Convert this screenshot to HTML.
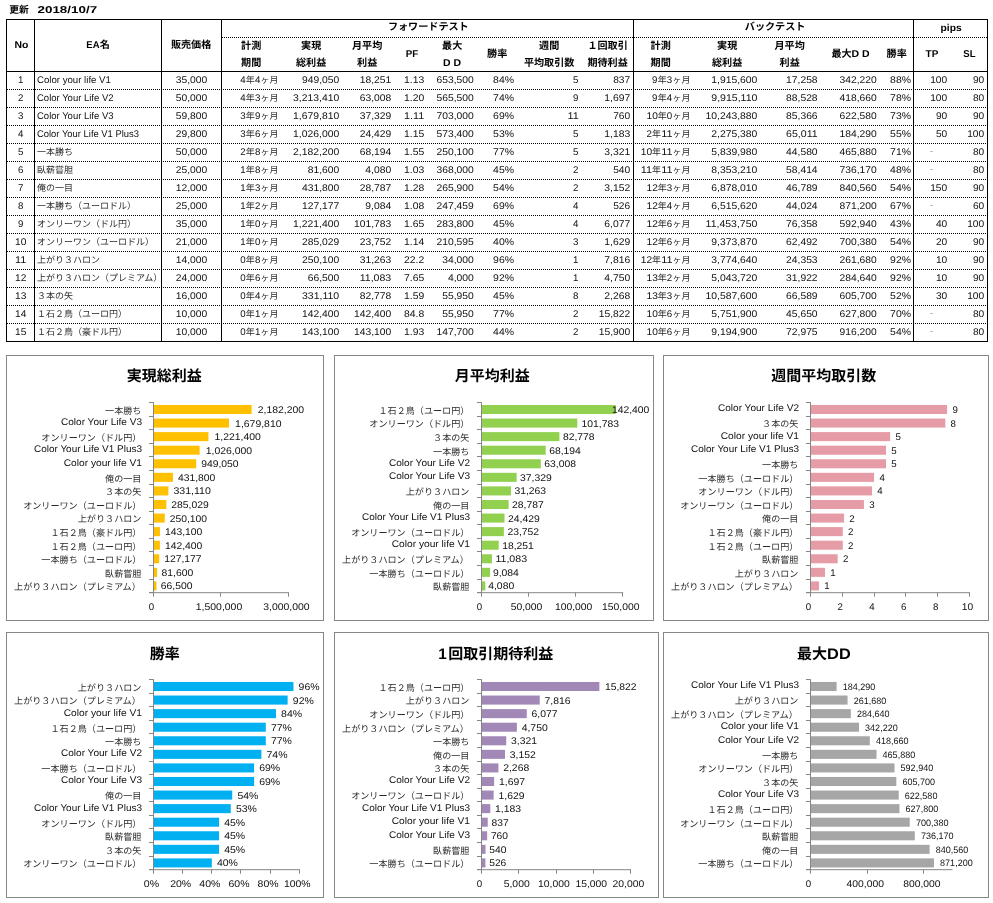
<!DOCTYPE html>
<html lang="ja">
<head>
<meta charset="utf-8">
<title>EA一覧</title>
<style>
html,body{margin:0;padding:0;background:#fff;}
body{width:993px;height:903px;overflow:hidden;font-family:"Liberation Sans","Noto Sans CJK JP",sans-serif;}
svg{display:block;font-family:"Liberation Sans","Noto Sans CJK JP",sans-serif;will-change:transform;text-rendering:geometricPrecision;}
svg line, svg rect{shape-rendering:crispEdges;}
</style>
</head>
<body>
<svg width="993" height="903" viewBox="0 0 993 903">
<g aria-label="更新"><text x="9.25" y="13.0" font-size="9.8" fill="#000" font-weight="bold">更新</text></g>
<text x="37.5" y="12.8" font-size="9.90" fill="#000" font-weight="bold" textLength="59.6" lengthAdjust="spacingAndGlyphs">2018/10/7</text>
<rect x="6.5" y="19.5" width="981.0" height="322.0" fill="none" stroke="#000"/>
<line x1="34.5" y1="19.0" x2="34.5" y2="342.0" stroke="#000" stroke-width="1"/>
<line x1="161.5" y1="19.0" x2="161.5" y2="342.0" stroke="#000" stroke-width="1"/>
<line x1="221.5" y1="19.0" x2="221.5" y2="342.0" stroke="#000" stroke-width="1"/>
<line x1="633.5" y1="19.0" x2="633.5" y2="342.0" stroke="#000" stroke-width="1"/>
<line x1="913.5" y1="19.0" x2="913.5" y2="342.0" stroke="#000" stroke-width="1"/>
<line x1="6.0" y1="71.5" x2="988.0" y2="71.5" stroke="#000" stroke-width="1"/>
<line x1="222.0" y1="37.5" x2="987.0" y2="37.5" stroke="#000" stroke-width="1" stroke-dasharray="1 1"/>
<line x1="7.0" y1="89.5" x2="987.0" y2="89.5" stroke="#000" stroke-width="1" stroke-dasharray="1 1"/>
<line x1="7.0" y1="107.5" x2="987.0" y2="107.5" stroke="#000" stroke-width="1" stroke-dasharray="1 1"/>
<line x1="7.0" y1="125.5" x2="987.0" y2="125.5" stroke="#000" stroke-width="1" stroke-dasharray="1 1"/>
<line x1="7.0" y1="143.5" x2="987.0" y2="143.5" stroke="#000" stroke-width="1" stroke-dasharray="1 1"/>
<line x1="7.0" y1="161.5" x2="987.0" y2="161.5" stroke="#000" stroke-width="1" stroke-dasharray="1 1"/>
<line x1="7.0" y1="179.5" x2="987.0" y2="179.5" stroke="#000" stroke-width="1" stroke-dasharray="1 1"/>
<line x1="7.0" y1="197.5" x2="987.0" y2="197.5" stroke="#000" stroke-width="1" stroke-dasharray="1 1"/>
<line x1="7.0" y1="215.5" x2="987.0" y2="215.5" stroke="#000" stroke-width="1" stroke-dasharray="1 1"/>
<line x1="7.0" y1="233.5" x2="987.0" y2="233.5" stroke="#000" stroke-width="1" stroke-dasharray="1 1"/>
<line x1="7.0" y1="251.5" x2="987.0" y2="251.5" stroke="#000" stroke-width="1" stroke-dasharray="1 1"/>
<line x1="7.0" y1="269.5" x2="987.0" y2="269.5" stroke="#000" stroke-width="1" stroke-dasharray="1 1"/>
<line x1="7.0" y1="287.5" x2="987.0" y2="287.5" stroke="#000" stroke-width="1" stroke-dasharray="1 1"/>
<line x1="7.0" y1="305.5" x2="987.0" y2="305.5" stroke="#000" stroke-width="1" stroke-dasharray="1 1"/>
<line x1="7.0" y1="323.5" x2="987.0" y2="323.5" stroke="#000" stroke-width="1" stroke-dasharray="1 1"/>
<text x="14.4" y="47.8" font-size="9.90" fill="#000" font-weight="bold" textLength="13.9" lengthAdjust="spacingAndGlyphs">No</text>
<g aria-label="EA名"><text x="86.3" y="47.8" font-size="9.90" fill="#000" font-weight="bold" textLength="13.2" lengthAdjust="spacingAndGlyphs">EA</text><text x="99.7" y="47.8" font-size="10.1" fill="#000" font-weight="bold">名</text></g>
<g aria-label="販売価格"><text x="170.95" y="47.7" font-size="10.1" fill="#000" font-weight="bold">販売価格</text></g>
<g aria-label="フォワードテスト"><text x="387.95" y="30.3" font-size="10.1" fill="#000" font-weight="bold">フォワードテスト</text></g>
<g aria-label="バックテスト"><text x="744.85" y="30.3" font-size="10.1" fill="#000" font-weight="bold">バックテスト</text></g>
<text x="940.6" y="30.6" font-size="9.90" fill="#000" font-weight="bold" textLength="21.1" lengthAdjust="spacingAndGlyphs">pips</text>
<g aria-label="計測"><text x="241.05" y="48.7" font-size="10.1" fill="#000" font-weight="bold">計測</text></g>
<g aria-label="期間"><text x="241.05" y="66.2" font-size="10.1" fill="#000" font-weight="bold">期間</text></g>
<g aria-label="実現"><text x="301.05" y="48.7" font-size="10.1" fill="#000" font-weight="bold">実現</text></g>
<g aria-label="総利益"><text x="296.0" y="66.2" font-size="10.1" fill="#000" font-weight="bold">総利益</text></g>
<g aria-label="月平均"><text x="352.0" y="48.7" font-size="10.1" fill="#000" font-weight="bold">月平均</text></g>
<g aria-label="利益"><text x="357.05" y="66.2" font-size="10.1" fill="#000" font-weight="bold">利益</text></g>
<g aria-label="最大"><text x="442.05" y="48.7" font-size="10.1" fill="#000" font-weight="bold">最大</text></g>
<text x="442.9" y="66.2" font-size="9.90" fill="#000" font-weight="bold" textLength="18.1" lengthAdjust="spacingAndGlyphs">D D</text>
<g aria-label="週間"><text x="539.05" y="48.7" font-size="10.1" fill="#000" font-weight="bold">週間</text></g>
<g aria-label="平均取引数"><text x="523.9" y="66.2" font-size="10.1" fill="#000" font-weight="bold">平均取引数</text></g>
<g aria-label="１回取引"><text x="587.45" y="48.7" font-size="10.1" fill="#000" font-weight="bold">１回取引</text></g>
<g aria-label="期待利益"><text x="587.45" y="66.2" font-size="10.1" fill="#000" font-weight="bold">期待利益</text></g>
<g aria-label="計測"><text x="650.55" y="48.7" font-size="10.1" fill="#000" font-weight="bold">計測</text></g>
<g aria-label="期間"><text x="650.55" y="66.2" font-size="10.1" fill="#000" font-weight="bold">期間</text></g>
<g aria-label="実現"><text x="717.05" y="48.7" font-size="10.1" fill="#000" font-weight="bold">実現</text></g>
<g aria-label="総利益"><text x="712.0" y="66.2" font-size="10.1" fill="#000" font-weight="bold">総利益</text></g>
<g aria-label="月平均"><text x="774.5" y="48.7" font-size="10.1" fill="#000" font-weight="bold">月平均</text></g>
<g aria-label="利益"><text x="779.55" y="66.2" font-size="10.1" fill="#000" font-weight="bold">利益</text></g>
<text x="405.7" y="56.8" font-size="9.90" fill="#000" font-weight="bold" textLength="12.5" lengthAdjust="spacingAndGlyphs">PF</text>
<g aria-label="勝率"><text x="487.05" y="56.5" font-size="10.1" fill="#000" font-weight="bold">勝率</text></g>
<g aria-label="最大D D"><text x="831.49" y="56.5" font-size="10.1" fill="#000" font-weight="bold">最大</text><text x="851.5" y="56.5" font-size="9.90" fill="#000" font-weight="bold" textLength="18.1" lengthAdjust="spacingAndGlyphs">D D</text></g>
<g aria-label="勝率"><text x="886.55" y="56.5" font-size="10.1" fill="#000" font-weight="bold">勝率</text></g>
<text x="925.6" y="56.8" font-size="9.90" fill="#000" font-weight="bold" textLength="12.8" lengthAdjust="spacingAndGlyphs">TP</text>
<text x="963.3" y="56.8" font-size="9.90" fill="#000" font-weight="bold" textLength="12.2" lengthAdjust="spacingAndGlyphs">SL</text>
<text x="18.0" y="83.0" font-size="9.70" fill="#111">1</text>
<text x="37.0" y="83.0" font-size="9.70" fill="#111" textLength="73.9" lengthAdjust="spacingAndGlyphs">Color your life V1</text>
<text x="175.7" y="83.0" font-size="9.70" fill="#111" textLength="31.5" lengthAdjust="spacingAndGlyphs">35,000</text>
<g aria-label="4年4ヶ月"><text x="240.2" y="83.0" font-size="9.70" fill="#111">4</text><text x="245.81" y="83.0" font-size="9" fill="#2b2b2b">年</text><text x="254.9" y="83.0" font-size="9.70" fill="#111">4</text><text x="260.53" y="83.0" font-size="9" fill="#2b2b2b">ヶ月</text></g>
<text x="302.0" y="83.0" font-size="9.70" fill="#111" textLength="37.2" lengthAdjust="spacingAndGlyphs">949,050</text>
<text x="359.7" y="83.0" font-size="9.70" fill="#111" textLength="31.5" lengthAdjust="spacingAndGlyphs">18,251</text>
<text x="404.0" y="83.0" font-size="9.70" fill="#111" textLength="20.2" lengthAdjust="spacingAndGlyphs">1.13</text>
<text x="436.6" y="83.0" font-size="9.70" fill="#111" textLength="37.2" lengthAdjust="spacingAndGlyphs">653,500</text>
<text x="493.1" y="83.0" font-size="9.70" fill="#111" textLength="20.9" lengthAdjust="spacingAndGlyphs">84%</text>
<text x="573.1" y="83.0" font-size="9.70" fill="#111">5</text>
<text x="613.2" y="83.0" font-size="9.70" fill="#111" textLength="17.0" lengthAdjust="spacingAndGlyphs">837</text>
<g aria-label="9年3ヶ月"><text x="652.1" y="83.0" font-size="9.70" fill="#111">9</text><text x="657.71" y="83.0" font-size="9" fill="#2b2b2b">年</text><text x="666.8" y="83.0" font-size="9.70" fill="#111">3</text><text x="672.42" y="83.0" font-size="9" fill="#2b2b2b">ヶ月</text></g>
<text x="711.3" y="83.0" font-size="9.70" fill="#111" textLength="46.1" lengthAdjust="spacingAndGlyphs">1,915,600</text>
<text x="786.1" y="83.0" font-size="9.70" fill="#111" textLength="31.5" lengthAdjust="spacingAndGlyphs">17,258</text>
<text x="839.6" y="83.0" font-size="9.70" fill="#111" textLength="37.2" lengthAdjust="spacingAndGlyphs">342,220</text>
<text x="890.1" y="83.0" font-size="9.70" fill="#111" textLength="20.9" lengthAdjust="spacingAndGlyphs">88%</text>
<text x="930.2" y="83.0" font-size="9.70" fill="#111" textLength="17.0" lengthAdjust="spacingAndGlyphs">100</text>
<text x="972.9" y="83.0" font-size="9.70" fill="#111" textLength="11.3" lengthAdjust="spacingAndGlyphs">90</text>
<text x="18.0" y="101.0" font-size="9.70" fill="#111">2</text>
<text x="37.0" y="101.0" font-size="9.70" fill="#111" textLength="76.5" lengthAdjust="spacingAndGlyphs">Color Your Life V2</text>
<text x="175.7" y="101.0" font-size="9.70" fill="#111" textLength="31.5" lengthAdjust="spacingAndGlyphs">50,000</text>
<g aria-label="4年3ヶ月"><text x="240.2" y="101.0" font-size="9.70" fill="#111">4</text><text x="245.81" y="101.0" font-size="9" fill="#2b2b2b">年</text><text x="254.9" y="101.0" font-size="9.70" fill="#111">3</text><text x="260.53" y="101.0" font-size="9" fill="#2b2b2b">ヶ月</text></g>
<text x="293.1" y="101.0" font-size="9.70" fill="#111" textLength="46.1" lengthAdjust="spacingAndGlyphs">3,213,410</text>
<text x="359.7" y="101.0" font-size="9.70" fill="#111" textLength="31.5" lengthAdjust="spacingAndGlyphs">63,008</text>
<text x="404.0" y="101.0" font-size="9.70" fill="#111" textLength="20.2" lengthAdjust="spacingAndGlyphs">1.20</text>
<text x="436.6" y="101.0" font-size="9.70" fill="#111" textLength="37.2" lengthAdjust="spacingAndGlyphs">565,500</text>
<text x="493.1" y="101.0" font-size="9.70" fill="#111" textLength="20.9" lengthAdjust="spacingAndGlyphs">74%</text>
<text x="573.1" y="101.0" font-size="9.70" fill="#111">9</text>
<text x="604.3" y="101.0" font-size="9.70" fill="#111" textLength="25.9" lengthAdjust="spacingAndGlyphs">1,697</text>
<g aria-label="9年4ヶ月"><text x="652.1" y="101.0" font-size="9.70" fill="#111">9</text><text x="657.71" y="101.0" font-size="9" fill="#2b2b2b">年</text><text x="666.8" y="101.0" font-size="9.70" fill="#111">4</text><text x="672.42" y="101.0" font-size="9" fill="#2b2b2b">ヶ月</text></g>
<text x="711.3" y="101.0" font-size="9.70" fill="#111" textLength="46.1" lengthAdjust="spacingAndGlyphs">9,915,110</text>
<text x="786.1" y="101.0" font-size="9.70" fill="#111" textLength="31.5" lengthAdjust="spacingAndGlyphs">88,528</text>
<text x="839.6" y="101.0" font-size="9.70" fill="#111" textLength="37.2" lengthAdjust="spacingAndGlyphs">418,660</text>
<text x="890.1" y="101.0" font-size="9.70" fill="#111" textLength="20.9" lengthAdjust="spacingAndGlyphs">78%</text>
<text x="930.2" y="101.0" font-size="9.70" fill="#111" textLength="17.0" lengthAdjust="spacingAndGlyphs">100</text>
<text x="972.9" y="101.0" font-size="9.70" fill="#111" textLength="11.3" lengthAdjust="spacingAndGlyphs">80</text>
<text x="18.0" y="119.0" font-size="9.70" fill="#111">3</text>
<text x="37.0" y="119.0" font-size="9.70" fill="#111" textLength="76.5" lengthAdjust="spacingAndGlyphs">Color Your Life V3</text>
<text x="175.7" y="119.0" font-size="9.70" fill="#111" textLength="31.5" lengthAdjust="spacingAndGlyphs">59,800</text>
<g aria-label="3年9ヶ月"><text x="240.2" y="119.0" font-size="9.70" fill="#111">3</text><text x="245.81" y="119.0" font-size="9" fill="#2b2b2b">年</text><text x="254.9" y="119.0" font-size="9.70" fill="#111">9</text><text x="260.53" y="119.0" font-size="9" fill="#2b2b2b">ヶ月</text></g>
<text x="293.1" y="119.0" font-size="9.70" fill="#111" textLength="46.1" lengthAdjust="spacingAndGlyphs">1,679,810</text>
<text x="359.7" y="119.0" font-size="9.70" fill="#111" textLength="31.5" lengthAdjust="spacingAndGlyphs">37,329</text>
<text x="404.0" y="119.0" font-size="9.70" fill="#111" textLength="20.2" lengthAdjust="spacingAndGlyphs">1.11</text>
<text x="436.6" y="119.0" font-size="9.70" fill="#111" textLength="37.2" lengthAdjust="spacingAndGlyphs">703,000</text>
<text x="493.1" y="119.0" font-size="9.70" fill="#111" textLength="20.9" lengthAdjust="spacingAndGlyphs">69%</text>
<text x="567.5" y="119.0" font-size="9.70" fill="#111" textLength="11.3" lengthAdjust="spacingAndGlyphs">11</text>
<text x="613.2" y="119.0" font-size="9.70" fill="#111" textLength="17.0" lengthAdjust="spacingAndGlyphs">760</text>
<g aria-label="10年0ヶ月"><text x="646.5" y="119.0" font-size="9.70" fill="#111" textLength="11.3" lengthAdjust="spacingAndGlyphs">10</text><text x="657.71" y="119.0" font-size="9" fill="#2b2b2b">年</text><text x="666.8" y="119.0" font-size="9.70" fill="#111">0</text><text x="672.42" y="119.0" font-size="9" fill="#2b2b2b">ヶ月</text></g>
<text x="705.6" y="119.0" font-size="9.70" fill="#111" textLength="51.8" lengthAdjust="spacingAndGlyphs">10,243,880</text>
<text x="786.1" y="119.0" font-size="9.70" fill="#111" textLength="31.5" lengthAdjust="spacingAndGlyphs">85,366</text>
<text x="839.6" y="119.0" font-size="9.70" fill="#111" textLength="37.2" lengthAdjust="spacingAndGlyphs">622,580</text>
<text x="890.1" y="119.0" font-size="9.70" fill="#111" textLength="20.9" lengthAdjust="spacingAndGlyphs">73%</text>
<text x="935.9" y="119.0" font-size="9.70" fill="#111" textLength="11.3" lengthAdjust="spacingAndGlyphs">90</text>
<text x="972.9" y="119.0" font-size="9.70" fill="#111" textLength="11.3" lengthAdjust="spacingAndGlyphs">90</text>
<text x="18.0" y="137.0" font-size="9.70" fill="#111">4</text>
<text x="37.0" y="137.0" font-size="9.70" fill="#111" textLength="102.0" lengthAdjust="spacingAndGlyphs">Color Your Life V1 Plus3</text>
<text x="175.7" y="137.0" font-size="9.70" fill="#111" textLength="31.5" lengthAdjust="spacingAndGlyphs">29,800</text>
<g aria-label="3年6ヶ月"><text x="240.2" y="137.0" font-size="9.70" fill="#111">3</text><text x="245.81" y="137.0" font-size="9" fill="#2b2b2b">年</text><text x="254.9" y="137.0" font-size="9.70" fill="#111">6</text><text x="260.53" y="137.0" font-size="9" fill="#2b2b2b">ヶ月</text></g>
<text x="293.1" y="137.0" font-size="9.70" fill="#111" textLength="46.1" lengthAdjust="spacingAndGlyphs">1,026,000</text>
<text x="359.7" y="137.0" font-size="9.70" fill="#111" textLength="31.5" lengthAdjust="spacingAndGlyphs">24,429</text>
<text x="404.0" y="137.0" font-size="9.70" fill="#111" textLength="20.2" lengthAdjust="spacingAndGlyphs">1.15</text>
<text x="436.6" y="137.0" font-size="9.70" fill="#111" textLength="37.2" lengthAdjust="spacingAndGlyphs">573,400</text>
<text x="493.1" y="137.0" font-size="9.70" fill="#111" textLength="20.9" lengthAdjust="spacingAndGlyphs">53%</text>
<text x="573.1" y="137.0" font-size="9.70" fill="#111">5</text>
<text x="604.3" y="137.0" font-size="9.70" fill="#111" textLength="25.9" lengthAdjust="spacingAndGlyphs">1,183</text>
<g aria-label="2年11ヶ月"><text x="646.5" y="137.0" font-size="9.70" fill="#111">2</text><text x="652.05" y="137.0" font-size="9" fill="#2b2b2b">年</text><text x="661.2" y="137.0" font-size="9.70" fill="#111" textLength="11.3" lengthAdjust="spacingAndGlyphs">11</text><text x="672.42" y="137.0" font-size="9" fill="#2b2b2b">ヶ月</text></g>
<text x="711.3" y="137.0" font-size="9.70" fill="#111" textLength="46.1" lengthAdjust="spacingAndGlyphs">2,275,380</text>
<text x="786.1" y="137.0" font-size="9.70" fill="#111" textLength="31.5" lengthAdjust="spacingAndGlyphs">65,011</text>
<text x="839.6" y="137.0" font-size="9.70" fill="#111" textLength="37.2" lengthAdjust="spacingAndGlyphs">184,290</text>
<text x="890.1" y="137.0" font-size="9.70" fill="#111" textLength="20.9" lengthAdjust="spacingAndGlyphs">55%</text>
<text x="935.9" y="137.0" font-size="9.70" fill="#111" textLength="11.3" lengthAdjust="spacingAndGlyphs">50</text>
<text x="967.2" y="137.0" font-size="9.70" fill="#111" textLength="17.0" lengthAdjust="spacingAndGlyphs">100</text>
<text x="18.0" y="155.0" font-size="9.70" fill="#111">5</text>
<g aria-label="一本勝ち"><text x="36.9" y="155.0" font-size="9" fill="#2b2b2b">一本勝ち</text></g>
<text x="175.7" y="155.0" font-size="9.70" fill="#111" textLength="31.5" lengthAdjust="spacingAndGlyphs">50,000</text>
<g aria-label="2年8ヶ月"><text x="240.2" y="155.0" font-size="9.70" fill="#111">2</text><text x="245.81" y="155.0" font-size="9" fill="#2b2b2b">年</text><text x="254.9" y="155.0" font-size="9.70" fill="#111">8</text><text x="260.53" y="155.0" font-size="9" fill="#2b2b2b">ヶ月</text></g>
<text x="293.1" y="155.0" font-size="9.70" fill="#111" textLength="46.1" lengthAdjust="spacingAndGlyphs">2,182,200</text>
<text x="359.7" y="155.0" font-size="9.70" fill="#111" textLength="31.5" lengthAdjust="spacingAndGlyphs">68,194</text>
<text x="404.0" y="155.0" font-size="9.70" fill="#111" textLength="20.2" lengthAdjust="spacingAndGlyphs">1.55</text>
<text x="436.6" y="155.0" font-size="9.70" fill="#111" textLength="37.2" lengthAdjust="spacingAndGlyphs">250,100</text>
<text x="493.1" y="155.0" font-size="9.70" fill="#111" textLength="20.9" lengthAdjust="spacingAndGlyphs">77%</text>
<text x="573.1" y="155.0" font-size="9.70" fill="#111">5</text>
<text x="604.3" y="155.0" font-size="9.70" fill="#111" textLength="25.9" lengthAdjust="spacingAndGlyphs">3,321</text>
<g aria-label="10年11ヶ月"><text x="640.8" y="155.0" font-size="9.70" fill="#111" textLength="11.3" lengthAdjust="spacingAndGlyphs">10</text><text x="652.05" y="155.0" font-size="9" fill="#2b2b2b">年</text><text x="661.2" y="155.0" font-size="9.70" fill="#111" textLength="11.3" lengthAdjust="spacingAndGlyphs">11</text><text x="672.42" y="155.0" font-size="9" fill="#2b2b2b">ヶ月</text></g>
<text x="711.3" y="155.0" font-size="9.70" fill="#111" textLength="46.1" lengthAdjust="spacingAndGlyphs">5,839,980</text>
<text x="786.1" y="155.0" font-size="9.70" fill="#111" textLength="31.5" lengthAdjust="spacingAndGlyphs">44,580</text>
<text x="839.6" y="155.0" font-size="9.70" fill="#111" textLength="37.2" lengthAdjust="spacingAndGlyphs">465,880</text>
<text x="890.1" y="155.0" font-size="9.70" fill="#111" textLength="20.9" lengthAdjust="spacingAndGlyphs">71%</text>
<text x="929.9" y="154.2" font-size="9.00" fill="#8a8a8a">-</text>
<text x="972.9" y="155.0" font-size="9.70" fill="#111" textLength="11.3" lengthAdjust="spacingAndGlyphs">80</text>
<text x="18.0" y="173.0" font-size="9.70" fill="#111">6</text>
<g aria-label="臥薪嘗胆"><text x="36.9" y="173.0" font-size="9" fill="#2b2b2b">臥薪嘗胆</text></g>
<text x="175.7" y="173.0" font-size="9.70" fill="#111" textLength="31.5" lengthAdjust="spacingAndGlyphs">25,000</text>
<g aria-label="1年8ヶ月"><text x="240.2" y="173.0" font-size="9.70" fill="#111">1</text><text x="245.81" y="173.0" font-size="9" fill="#2b2b2b">年</text><text x="254.9" y="173.0" font-size="9.70" fill="#111">8</text><text x="260.53" y="173.0" font-size="9" fill="#2b2b2b">ヶ月</text></g>
<text x="307.7" y="173.0" font-size="9.70" fill="#111" textLength="31.5" lengthAdjust="spacingAndGlyphs">81,600</text>
<text x="365.3" y="173.0" font-size="9.70" fill="#111" textLength="25.9" lengthAdjust="spacingAndGlyphs">4,080</text>
<text x="404.0" y="173.0" font-size="9.70" fill="#111" textLength="20.2" lengthAdjust="spacingAndGlyphs">1.03</text>
<text x="436.6" y="173.0" font-size="9.70" fill="#111" textLength="37.2" lengthAdjust="spacingAndGlyphs">368,000</text>
<text x="493.1" y="173.0" font-size="9.70" fill="#111" textLength="20.9" lengthAdjust="spacingAndGlyphs">45%</text>
<text x="573.1" y="173.0" font-size="9.70" fill="#111">2</text>
<text x="613.2" y="173.0" font-size="9.70" fill="#111" textLength="17.0" lengthAdjust="spacingAndGlyphs">540</text>
<g aria-label="11年11ヶ月"><text x="640.8" y="173.0" font-size="9.70" fill="#111" textLength="11.3" lengthAdjust="spacingAndGlyphs">11</text><text x="652.05" y="173.0" font-size="9" fill="#2b2b2b">年</text><text x="661.2" y="173.0" font-size="9.70" fill="#111" textLength="11.3" lengthAdjust="spacingAndGlyphs">11</text><text x="672.42" y="173.0" font-size="9" fill="#2b2b2b">ヶ月</text></g>
<text x="711.3" y="173.0" font-size="9.70" fill="#111" textLength="46.1" lengthAdjust="spacingAndGlyphs">8,353,210</text>
<text x="786.1" y="173.0" font-size="9.70" fill="#111" textLength="31.5" lengthAdjust="spacingAndGlyphs">58,414</text>
<text x="839.6" y="173.0" font-size="9.70" fill="#111" textLength="37.2" lengthAdjust="spacingAndGlyphs">736,170</text>
<text x="890.1" y="173.0" font-size="9.70" fill="#111" textLength="20.9" lengthAdjust="spacingAndGlyphs">48%</text>
<text x="929.9" y="172.2" font-size="9.00" fill="#8a8a8a">-</text>
<text x="972.9" y="173.0" font-size="9.70" fill="#111" textLength="11.3" lengthAdjust="spacingAndGlyphs">80</text>
<text x="18.0" y="191.0" font-size="9.70" fill="#111">7</text>
<g aria-label="俺の一目"><text x="36.9" y="191.0" font-size="9" fill="#2b2b2b">俺の一目</text></g>
<text x="175.7" y="191.0" font-size="9.70" fill="#111" textLength="31.5" lengthAdjust="spacingAndGlyphs">12,000</text>
<g aria-label="1年3ヶ月"><text x="240.2" y="191.0" font-size="9.70" fill="#111">1</text><text x="245.81" y="191.0" font-size="9" fill="#2b2b2b">年</text><text x="254.9" y="191.0" font-size="9.70" fill="#111">3</text><text x="260.53" y="191.0" font-size="9" fill="#2b2b2b">ヶ月</text></g>
<text x="302.0" y="191.0" font-size="9.70" fill="#111" textLength="37.2" lengthAdjust="spacingAndGlyphs">431,800</text>
<text x="359.7" y="191.0" font-size="9.70" fill="#111" textLength="31.5" lengthAdjust="spacingAndGlyphs">28,787</text>
<text x="404.0" y="191.0" font-size="9.70" fill="#111" textLength="20.2" lengthAdjust="spacingAndGlyphs">1.28</text>
<text x="436.6" y="191.0" font-size="9.70" fill="#111" textLength="37.2" lengthAdjust="spacingAndGlyphs">265,900</text>
<text x="493.1" y="191.0" font-size="9.70" fill="#111" textLength="20.9" lengthAdjust="spacingAndGlyphs">54%</text>
<text x="573.1" y="191.0" font-size="9.70" fill="#111">2</text>
<text x="604.3" y="191.0" font-size="9.70" fill="#111" textLength="25.9" lengthAdjust="spacingAndGlyphs">3,152</text>
<g aria-label="12年3ヶ月"><text x="646.5" y="191.0" font-size="9.70" fill="#111" textLength="11.3" lengthAdjust="spacingAndGlyphs">12</text><text x="657.71" y="191.0" font-size="9" fill="#2b2b2b">年</text><text x="666.8" y="191.0" font-size="9.70" fill="#111">3</text><text x="672.42" y="191.0" font-size="9" fill="#2b2b2b">ヶ月</text></g>
<text x="711.3" y="191.0" font-size="9.70" fill="#111" textLength="46.1" lengthAdjust="spacingAndGlyphs">6,878,010</text>
<text x="786.1" y="191.0" font-size="9.70" fill="#111" textLength="31.5" lengthAdjust="spacingAndGlyphs">46,789</text>
<text x="839.6" y="191.0" font-size="9.70" fill="#111" textLength="37.2" lengthAdjust="spacingAndGlyphs">840,560</text>
<text x="890.1" y="191.0" font-size="9.70" fill="#111" textLength="20.9" lengthAdjust="spacingAndGlyphs">54%</text>
<text x="930.2" y="191.0" font-size="9.70" fill="#111" textLength="17.0" lengthAdjust="spacingAndGlyphs">150</text>
<text x="972.9" y="191.0" font-size="9.70" fill="#111" textLength="11.3" lengthAdjust="spacingAndGlyphs">90</text>
<text x="18.0" y="209.0" font-size="9.70" fill="#111">8</text>
<g aria-label="一本勝ち（ユーロドル）"><text x="36.9" y="209.0" font-size="9" fill="#2b2b2b">一本勝ち（ユーロドル）</text></g>
<text x="175.7" y="209.0" font-size="9.70" fill="#111" textLength="31.5" lengthAdjust="spacingAndGlyphs">25,000</text>
<g aria-label="1年2ヶ月"><text x="240.2" y="209.0" font-size="9.70" fill="#111">1</text><text x="245.81" y="209.0" font-size="9" fill="#2b2b2b">年</text><text x="254.9" y="209.0" font-size="9.70" fill="#111">2</text><text x="260.53" y="209.0" font-size="9" fill="#2b2b2b">ヶ月</text></g>
<text x="302.0" y="209.0" font-size="9.70" fill="#111" textLength="37.2" lengthAdjust="spacingAndGlyphs">127,177</text>
<text x="365.3" y="209.0" font-size="9.70" fill="#111" textLength="25.9" lengthAdjust="spacingAndGlyphs">9,084</text>
<text x="404.0" y="209.0" font-size="9.70" fill="#111" textLength="20.2" lengthAdjust="spacingAndGlyphs">1.08</text>
<text x="436.6" y="209.0" font-size="9.70" fill="#111" textLength="37.2" lengthAdjust="spacingAndGlyphs">247,459</text>
<text x="493.1" y="209.0" font-size="9.70" fill="#111" textLength="20.9" lengthAdjust="spacingAndGlyphs">69%</text>
<text x="573.1" y="209.0" font-size="9.70" fill="#111">4</text>
<text x="613.2" y="209.0" font-size="9.70" fill="#111" textLength="17.0" lengthAdjust="spacingAndGlyphs">526</text>
<g aria-label="12年4ヶ月"><text x="646.5" y="209.0" font-size="9.70" fill="#111" textLength="11.3" lengthAdjust="spacingAndGlyphs">12</text><text x="657.71" y="209.0" font-size="9" fill="#2b2b2b">年</text><text x="666.8" y="209.0" font-size="9.70" fill="#111">4</text><text x="672.42" y="209.0" font-size="9" fill="#2b2b2b">ヶ月</text></g>
<text x="711.3" y="209.0" font-size="9.70" fill="#111" textLength="46.1" lengthAdjust="spacingAndGlyphs">6,515,620</text>
<text x="786.1" y="209.0" font-size="9.70" fill="#111" textLength="31.5" lengthAdjust="spacingAndGlyphs">44,024</text>
<text x="839.6" y="209.0" font-size="9.70" fill="#111" textLength="37.2" lengthAdjust="spacingAndGlyphs">871,200</text>
<text x="890.1" y="209.0" font-size="9.70" fill="#111" textLength="20.9" lengthAdjust="spacingAndGlyphs">67%</text>
<text x="929.9" y="208.2" font-size="9.00" fill="#8a8a8a">-</text>
<text x="972.9" y="209.0" font-size="9.70" fill="#111" textLength="11.3" lengthAdjust="spacingAndGlyphs">60</text>
<text x="18.0" y="227.0" font-size="9.70" fill="#111">9</text>
<g aria-label="オンリーワン（ドル円）"><text x="36.9" y="227.0" font-size="9" fill="#2b2b2b">オンリーワン（ドル円）</text></g>
<text x="175.7" y="227.0" font-size="9.70" fill="#111" textLength="31.5" lengthAdjust="spacingAndGlyphs">35,000</text>
<g aria-label="1年0ヶ月"><text x="240.2" y="227.0" font-size="9.70" fill="#111">1</text><text x="245.81" y="227.0" font-size="9" fill="#2b2b2b">年</text><text x="254.9" y="227.0" font-size="9.70" fill="#111">0</text><text x="260.53" y="227.0" font-size="9" fill="#2b2b2b">ヶ月</text></g>
<text x="293.1" y="227.0" font-size="9.70" fill="#111" textLength="46.1" lengthAdjust="spacingAndGlyphs">1,221,400</text>
<text x="354.0" y="227.0" font-size="9.70" fill="#111" textLength="37.2" lengthAdjust="spacingAndGlyphs">101,783</text>
<text x="404.0" y="227.0" font-size="9.70" fill="#111" textLength="20.2" lengthAdjust="spacingAndGlyphs">1.65</text>
<text x="436.6" y="227.0" font-size="9.70" fill="#111" textLength="37.2" lengthAdjust="spacingAndGlyphs">283,800</text>
<text x="493.1" y="227.0" font-size="9.70" fill="#111" textLength="20.9" lengthAdjust="spacingAndGlyphs">45%</text>
<text x="573.1" y="227.0" font-size="9.70" fill="#111">4</text>
<text x="604.3" y="227.0" font-size="9.70" fill="#111" textLength="25.9" lengthAdjust="spacingAndGlyphs">6,077</text>
<g aria-label="12年6ヶ月"><text x="646.5" y="227.0" font-size="9.70" fill="#111" textLength="11.3" lengthAdjust="spacingAndGlyphs">12</text><text x="657.71" y="227.0" font-size="9" fill="#2b2b2b">年</text><text x="666.8" y="227.0" font-size="9.70" fill="#111">6</text><text x="672.42" y="227.0" font-size="9" fill="#2b2b2b">ヶ月</text></g>
<text x="705.6" y="227.0" font-size="9.70" fill="#111" textLength="51.8" lengthAdjust="spacingAndGlyphs">11,453,750</text>
<text x="786.1" y="227.0" font-size="9.70" fill="#111" textLength="31.5" lengthAdjust="spacingAndGlyphs">76,358</text>
<text x="839.6" y="227.0" font-size="9.70" fill="#111" textLength="37.2" lengthAdjust="spacingAndGlyphs">592,940</text>
<text x="890.1" y="227.0" font-size="9.70" fill="#111" textLength="20.9" lengthAdjust="spacingAndGlyphs">43%</text>
<text x="935.9" y="227.0" font-size="9.70" fill="#111" textLength="11.3" lengthAdjust="spacingAndGlyphs">40</text>
<text x="967.2" y="227.0" font-size="9.70" fill="#111" textLength="17.0" lengthAdjust="spacingAndGlyphs">100</text>
<text x="15.1" y="245.0" font-size="9.70" fill="#111" textLength="11.3" lengthAdjust="spacingAndGlyphs">10</text>
<g aria-label="オンリーワン（ユーロドル）"><text x="36.9" y="245.0" font-size="9" fill="#2b2b2b">オンリーワン（ユーロドル）</text></g>
<text x="175.7" y="245.0" font-size="9.70" fill="#111" textLength="31.5" lengthAdjust="spacingAndGlyphs">21,000</text>
<g aria-label="1年0ヶ月"><text x="240.2" y="245.0" font-size="9.70" fill="#111">1</text><text x="245.81" y="245.0" font-size="9" fill="#2b2b2b">年</text><text x="254.9" y="245.0" font-size="9.70" fill="#111">0</text><text x="260.53" y="245.0" font-size="9" fill="#2b2b2b">ヶ月</text></g>
<text x="302.0" y="245.0" font-size="9.70" fill="#111" textLength="37.2" lengthAdjust="spacingAndGlyphs">285,029</text>
<text x="359.7" y="245.0" font-size="9.70" fill="#111" textLength="31.5" lengthAdjust="spacingAndGlyphs">23,752</text>
<text x="404.0" y="245.0" font-size="9.70" fill="#111" textLength="20.2" lengthAdjust="spacingAndGlyphs">1.14</text>
<text x="436.6" y="245.0" font-size="9.70" fill="#111" textLength="37.2" lengthAdjust="spacingAndGlyphs">210,595</text>
<text x="493.1" y="245.0" font-size="9.70" fill="#111" textLength="20.9" lengthAdjust="spacingAndGlyphs">40%</text>
<text x="573.1" y="245.0" font-size="9.70" fill="#111">3</text>
<text x="604.3" y="245.0" font-size="9.70" fill="#111" textLength="25.9" lengthAdjust="spacingAndGlyphs">1,629</text>
<g aria-label="12年6ヶ月"><text x="646.5" y="245.0" font-size="9.70" fill="#111" textLength="11.3" lengthAdjust="spacingAndGlyphs">12</text><text x="657.71" y="245.0" font-size="9" fill="#2b2b2b">年</text><text x="666.8" y="245.0" font-size="9.70" fill="#111">6</text><text x="672.42" y="245.0" font-size="9" fill="#2b2b2b">ヶ月</text></g>
<text x="711.3" y="245.0" font-size="9.70" fill="#111" textLength="46.1" lengthAdjust="spacingAndGlyphs">9,373,870</text>
<text x="786.1" y="245.0" font-size="9.70" fill="#111" textLength="31.5" lengthAdjust="spacingAndGlyphs">62,492</text>
<text x="839.6" y="245.0" font-size="9.70" fill="#111" textLength="37.2" lengthAdjust="spacingAndGlyphs">700,380</text>
<text x="890.1" y="245.0" font-size="9.70" fill="#111" textLength="20.9" lengthAdjust="spacingAndGlyphs">54%</text>
<text x="935.9" y="245.0" font-size="9.70" fill="#111" textLength="11.3" lengthAdjust="spacingAndGlyphs">20</text>
<text x="972.9" y="245.0" font-size="9.70" fill="#111" textLength="11.3" lengthAdjust="spacingAndGlyphs">90</text>
<text x="15.1" y="263.0" font-size="9.70" fill="#111" textLength="11.3" lengthAdjust="spacingAndGlyphs">11</text>
<g aria-label="上がり３ハロン"><text x="36.9" y="263.0" font-size="9" fill="#2b2b2b">上がり３ハロン</text></g>
<text x="175.7" y="263.0" font-size="9.70" fill="#111" textLength="31.5" lengthAdjust="spacingAndGlyphs">14,000</text>
<g aria-label="0年8ヶ月"><text x="240.2" y="263.0" font-size="9.70" fill="#111">0</text><text x="245.81" y="263.0" font-size="9" fill="#2b2b2b">年</text><text x="254.9" y="263.0" font-size="9.70" fill="#111">8</text><text x="260.53" y="263.0" font-size="9" fill="#2b2b2b">ヶ月</text></g>
<text x="302.0" y="263.0" font-size="9.70" fill="#111" textLength="37.2" lengthAdjust="spacingAndGlyphs">250,100</text>
<text x="359.7" y="263.0" font-size="9.70" fill="#111" textLength="31.5" lengthAdjust="spacingAndGlyphs">31,263</text>
<text x="404.0" y="263.0" font-size="9.70" fill="#111" textLength="20.2" lengthAdjust="spacingAndGlyphs">22.2</text>
<text x="442.3" y="263.0" font-size="9.70" fill="#111" textLength="31.5" lengthAdjust="spacingAndGlyphs">34,000</text>
<text x="493.1" y="263.0" font-size="9.70" fill="#111" textLength="20.9" lengthAdjust="spacingAndGlyphs">96%</text>
<text x="573.1" y="263.0" font-size="9.70" fill="#111">1</text>
<text x="604.3" y="263.0" font-size="9.70" fill="#111" textLength="25.9" lengthAdjust="spacingAndGlyphs">7,816</text>
<g aria-label="12年11ヶ月"><text x="640.8" y="263.0" font-size="9.70" fill="#111" textLength="11.3" lengthAdjust="spacingAndGlyphs">12</text><text x="652.05" y="263.0" font-size="9" fill="#2b2b2b">年</text><text x="661.2" y="263.0" font-size="9.70" fill="#111" textLength="11.3" lengthAdjust="spacingAndGlyphs">11</text><text x="672.42" y="263.0" font-size="9" fill="#2b2b2b">ヶ月</text></g>
<text x="711.3" y="263.0" font-size="9.70" fill="#111" textLength="46.1" lengthAdjust="spacingAndGlyphs">3,774,640</text>
<text x="786.1" y="263.0" font-size="9.70" fill="#111" textLength="31.5" lengthAdjust="spacingAndGlyphs">24,353</text>
<text x="839.6" y="263.0" font-size="9.70" fill="#111" textLength="37.2" lengthAdjust="spacingAndGlyphs">261,680</text>
<text x="890.1" y="263.0" font-size="9.70" fill="#111" textLength="20.9" lengthAdjust="spacingAndGlyphs">92%</text>
<text x="935.9" y="263.0" font-size="9.70" fill="#111" textLength="11.3" lengthAdjust="spacingAndGlyphs">10</text>
<text x="972.9" y="263.0" font-size="9.70" fill="#111" textLength="11.3" lengthAdjust="spacingAndGlyphs">90</text>
<text x="15.1" y="281.0" font-size="9.70" fill="#111" textLength="11.3" lengthAdjust="spacingAndGlyphs">12</text>
<g aria-label="上がり３ハロン（プレミアム）"><text x="36.9" y="281.0" font-size="9" fill="#2b2b2b">上がり３ハロン（プレミアム）</text></g>
<text x="175.7" y="281.0" font-size="9.70" fill="#111" textLength="31.5" lengthAdjust="spacingAndGlyphs">24,000</text>
<g aria-label="0年6ヶ月"><text x="240.2" y="281.0" font-size="9.70" fill="#111">0</text><text x="245.81" y="281.0" font-size="9" fill="#2b2b2b">年</text><text x="254.9" y="281.0" font-size="9.70" fill="#111">6</text><text x="260.53" y="281.0" font-size="9" fill="#2b2b2b">ヶ月</text></g>
<text x="307.7" y="281.0" font-size="9.70" fill="#111" textLength="31.5" lengthAdjust="spacingAndGlyphs">66,500</text>
<text x="359.7" y="281.0" font-size="9.70" fill="#111" textLength="31.5" lengthAdjust="spacingAndGlyphs">11,083</text>
<text x="404.0" y="281.0" font-size="9.70" fill="#111" textLength="20.2" lengthAdjust="spacingAndGlyphs">7.65</text>
<text x="447.9" y="281.0" font-size="9.70" fill="#111" textLength="25.9" lengthAdjust="spacingAndGlyphs">4,000</text>
<text x="493.1" y="281.0" font-size="9.70" fill="#111" textLength="20.9" lengthAdjust="spacingAndGlyphs">92%</text>
<text x="573.1" y="281.0" font-size="9.70" fill="#111">1</text>
<text x="604.3" y="281.0" font-size="9.70" fill="#111" textLength="25.9" lengthAdjust="spacingAndGlyphs">4,750</text>
<g aria-label="13年2ヶ月"><text x="646.5" y="281.0" font-size="9.70" fill="#111" textLength="11.3" lengthAdjust="spacingAndGlyphs">13</text><text x="657.71" y="281.0" font-size="9" fill="#2b2b2b">年</text><text x="666.8" y="281.0" font-size="9.70" fill="#111">2</text><text x="672.42" y="281.0" font-size="9" fill="#2b2b2b">ヶ月</text></g>
<text x="711.3" y="281.0" font-size="9.70" fill="#111" textLength="46.1" lengthAdjust="spacingAndGlyphs">5,043,720</text>
<text x="786.1" y="281.0" font-size="9.70" fill="#111" textLength="31.5" lengthAdjust="spacingAndGlyphs">31,922</text>
<text x="839.6" y="281.0" font-size="9.70" fill="#111" textLength="37.2" lengthAdjust="spacingAndGlyphs">284,640</text>
<text x="890.1" y="281.0" font-size="9.70" fill="#111" textLength="20.9" lengthAdjust="spacingAndGlyphs">92%</text>
<text x="935.9" y="281.0" font-size="9.70" fill="#111" textLength="11.3" lengthAdjust="spacingAndGlyphs">10</text>
<text x="972.9" y="281.0" font-size="9.70" fill="#111" textLength="11.3" lengthAdjust="spacingAndGlyphs">90</text>
<text x="15.1" y="299.0" font-size="9.70" fill="#111" textLength="11.3" lengthAdjust="spacingAndGlyphs">13</text>
<g aria-label="３本の矢"><text x="36.9" y="299.0" font-size="9" fill="#2b2b2b">３本の矢</text></g>
<text x="175.7" y="299.0" font-size="9.70" fill="#111" textLength="31.5" lengthAdjust="spacingAndGlyphs">16,000</text>
<g aria-label="0年4ヶ月"><text x="240.2" y="299.0" font-size="9.70" fill="#111">0</text><text x="245.81" y="299.0" font-size="9" fill="#2b2b2b">年</text><text x="254.9" y="299.0" font-size="9.70" fill="#111">4</text><text x="260.53" y="299.0" font-size="9" fill="#2b2b2b">ヶ月</text></g>
<text x="302.0" y="299.0" font-size="9.70" fill="#111" textLength="37.2" lengthAdjust="spacingAndGlyphs">331,110</text>
<text x="359.7" y="299.0" font-size="9.70" fill="#111" textLength="31.5" lengthAdjust="spacingAndGlyphs">82,778</text>
<text x="404.0" y="299.0" font-size="9.70" fill="#111" textLength="20.2" lengthAdjust="spacingAndGlyphs">1.59</text>
<text x="442.3" y="299.0" font-size="9.70" fill="#111" textLength="31.5" lengthAdjust="spacingAndGlyphs">55,950</text>
<text x="493.1" y="299.0" font-size="9.70" fill="#111" textLength="20.9" lengthAdjust="spacingAndGlyphs">45%</text>
<text x="573.1" y="299.0" font-size="9.70" fill="#111">8</text>
<text x="604.3" y="299.0" font-size="9.70" fill="#111" textLength="25.9" lengthAdjust="spacingAndGlyphs">2,268</text>
<g aria-label="13年3ヶ月"><text x="646.5" y="299.0" font-size="9.70" fill="#111" textLength="11.3" lengthAdjust="spacingAndGlyphs">13</text><text x="657.71" y="299.0" font-size="9" fill="#2b2b2b">年</text><text x="666.8" y="299.0" font-size="9.70" fill="#111">3</text><text x="672.42" y="299.0" font-size="9" fill="#2b2b2b">ヶ月</text></g>
<text x="705.6" y="299.0" font-size="9.70" fill="#111" textLength="51.8" lengthAdjust="spacingAndGlyphs">10,587,600</text>
<text x="786.1" y="299.0" font-size="9.70" fill="#111" textLength="31.5" lengthAdjust="spacingAndGlyphs">66,589</text>
<text x="839.6" y="299.0" font-size="9.70" fill="#111" textLength="37.2" lengthAdjust="spacingAndGlyphs">605,700</text>
<text x="890.1" y="299.0" font-size="9.70" fill="#111" textLength="20.9" lengthAdjust="spacingAndGlyphs">52%</text>
<text x="935.9" y="299.0" font-size="9.70" fill="#111" textLength="11.3" lengthAdjust="spacingAndGlyphs">30</text>
<text x="967.2" y="299.0" font-size="9.70" fill="#111" textLength="17.0" lengthAdjust="spacingAndGlyphs">100</text>
<text x="15.1" y="317.0" font-size="9.70" fill="#111" textLength="11.3" lengthAdjust="spacingAndGlyphs">14</text>
<g aria-label="１石２鳥（ユーロ円）"><text x="36.9" y="317.0" font-size="9" fill="#2b2b2b">１石２鳥（ユーロ円）</text></g>
<text x="175.7" y="317.0" font-size="9.70" fill="#111" textLength="31.5" lengthAdjust="spacingAndGlyphs">10,000</text>
<g aria-label="0年1ヶ月"><text x="240.2" y="317.0" font-size="9.70" fill="#111">0</text><text x="245.81" y="317.0" font-size="9" fill="#2b2b2b">年</text><text x="254.9" y="317.0" font-size="9.70" fill="#111">1</text><text x="260.53" y="317.0" font-size="9" fill="#2b2b2b">ヶ月</text></g>
<text x="302.0" y="317.0" font-size="9.70" fill="#111" textLength="37.2" lengthAdjust="spacingAndGlyphs">142,400</text>
<text x="354.0" y="317.0" font-size="9.70" fill="#111" textLength="37.2" lengthAdjust="spacingAndGlyphs">142,400</text>
<text x="404.0" y="317.0" font-size="9.70" fill="#111" textLength="20.2" lengthAdjust="spacingAndGlyphs">84.8</text>
<text x="442.3" y="317.0" font-size="9.70" fill="#111" textLength="31.5" lengthAdjust="spacingAndGlyphs">55,950</text>
<text x="493.1" y="317.0" font-size="9.70" fill="#111" textLength="20.9" lengthAdjust="spacingAndGlyphs">77%</text>
<text x="573.1" y="317.0" font-size="9.70" fill="#111">2</text>
<text x="598.7" y="317.0" font-size="9.70" fill="#111" textLength="31.5" lengthAdjust="spacingAndGlyphs">15,822</text>
<g aria-label="10年6ヶ月"><text x="646.5" y="317.0" font-size="9.70" fill="#111" textLength="11.3" lengthAdjust="spacingAndGlyphs">10</text><text x="657.71" y="317.0" font-size="9" fill="#2b2b2b">年</text><text x="666.8" y="317.0" font-size="9.70" fill="#111">6</text><text x="672.42" y="317.0" font-size="9" fill="#2b2b2b">ヶ月</text></g>
<text x="711.3" y="317.0" font-size="9.70" fill="#111" textLength="46.1" lengthAdjust="spacingAndGlyphs">5,751,900</text>
<text x="786.1" y="317.0" font-size="9.70" fill="#111" textLength="31.5" lengthAdjust="spacingAndGlyphs">45,650</text>
<text x="839.6" y="317.0" font-size="9.70" fill="#111" textLength="37.2" lengthAdjust="spacingAndGlyphs">627,800</text>
<text x="890.1" y="317.0" font-size="9.70" fill="#111" textLength="20.9" lengthAdjust="spacingAndGlyphs">70%</text>
<text x="929.9" y="316.2" font-size="9.00" fill="#8a8a8a">-</text>
<text x="972.9" y="317.0" font-size="9.70" fill="#111" textLength="11.3" lengthAdjust="spacingAndGlyphs">80</text>
<text x="15.1" y="335.0" font-size="9.70" fill="#111" textLength="11.3" lengthAdjust="spacingAndGlyphs">15</text>
<g aria-label="１石２鳥（豪ドル円）"><text x="36.9" y="335.0" font-size="9" fill="#2b2b2b">１石２鳥（豪ドル円）</text></g>
<text x="175.7" y="335.0" font-size="9.70" fill="#111" textLength="31.5" lengthAdjust="spacingAndGlyphs">10,000</text>
<g aria-label="0年1ヶ月"><text x="240.2" y="335.0" font-size="9.70" fill="#111">0</text><text x="245.81" y="335.0" font-size="9" fill="#2b2b2b">年</text><text x="254.9" y="335.0" font-size="9.70" fill="#111">1</text><text x="260.53" y="335.0" font-size="9" fill="#2b2b2b">ヶ月</text></g>
<text x="302.0" y="335.0" font-size="9.70" fill="#111" textLength="37.2" lengthAdjust="spacingAndGlyphs">143,100</text>
<text x="354.0" y="335.0" font-size="9.70" fill="#111" textLength="37.2" lengthAdjust="spacingAndGlyphs">143,100</text>
<text x="404.0" y="335.0" font-size="9.70" fill="#111" textLength="20.2" lengthAdjust="spacingAndGlyphs">1.93</text>
<text x="436.6" y="335.0" font-size="9.70" fill="#111" textLength="37.2" lengthAdjust="spacingAndGlyphs">147,700</text>
<text x="493.1" y="335.0" font-size="9.70" fill="#111" textLength="20.9" lengthAdjust="spacingAndGlyphs">44%</text>
<text x="573.1" y="335.0" font-size="9.70" fill="#111">2</text>
<text x="598.7" y="335.0" font-size="9.70" fill="#111" textLength="31.5" lengthAdjust="spacingAndGlyphs">15,900</text>
<g aria-label="10年6ヶ月"><text x="646.5" y="335.0" font-size="9.70" fill="#111" textLength="11.3" lengthAdjust="spacingAndGlyphs">10</text><text x="657.71" y="335.0" font-size="9" fill="#2b2b2b">年</text><text x="666.8" y="335.0" font-size="9.70" fill="#111">6</text><text x="672.42" y="335.0" font-size="9" fill="#2b2b2b">ヶ月</text></g>
<text x="711.3" y="335.0" font-size="9.70" fill="#111" textLength="46.1" lengthAdjust="spacingAndGlyphs">9,194,900</text>
<text x="786.1" y="335.0" font-size="9.70" fill="#111" textLength="31.5" lengthAdjust="spacingAndGlyphs">72,975</text>
<text x="839.6" y="335.0" font-size="9.70" fill="#111" textLength="37.2" lengthAdjust="spacingAndGlyphs">916,200</text>
<text x="890.1" y="335.0" font-size="9.70" fill="#111" textLength="20.9" lengthAdjust="spacingAndGlyphs">54%</text>
<text x="929.9" y="334.2" font-size="9.00" fill="#8a8a8a">-</text>
<text x="972.9" y="335.0" font-size="9.70" fill="#111" textLength="11.3" lengthAdjust="spacingAndGlyphs">80</text>
<rect x="6.5" y="355.5" width="317.0" height="265.0" fill="#fff" stroke="#868686"/>
<g aria-label="実現総利益"><text x="126.8" y="380.7" font-size="15" fill="#000" font-weight="bold">実現総利益</text></g>
<g shape-rendering="auto">
<rect x="154.0" y="404.97" width="97.63" height="9.05" fill="#FFC000" style="shape-rendering:auto"/>
<g aria-label="一本勝ち"><text x="105.05" y="413.89" font-size="9.1" fill="#2b2b2b">一本勝ち</text></g>
<text x="257.7" y="412.9" font-size="9.70" fill="#111" textLength="46.4" lengthAdjust="spacingAndGlyphs">2,182,200</text>
<rect x="154.0" y="418.54" width="75.04" height="9.05" fill="#FFC000" style="shape-rendering:auto"/>
<text x="61.0" y="425.0" font-size="9.70" fill="#111" textLength="81.0" lengthAdjust="spacingAndGlyphs">Color Your Life V3</text>
<text x="235.1" y="426.5" font-size="9.70" fill="#111" textLength="46.4" lengthAdjust="spacingAndGlyphs">1,679,810</text>
<rect x="154.0" y="432.11" width="54.42" height="9.05" fill="#FFC000" style="shape-rendering:auto"/>
<g aria-label="オンリーワン（ドル円）"><text x="41.35" y="441.03" font-size="9.1" fill="#2b2b2b">オンリーワン（ドル円）</text></g>
<text x="214.5" y="440.0" font-size="9.70" fill="#111" textLength="46.4" lengthAdjust="spacingAndGlyphs">1,221,400</text>
<rect x="154.0" y="445.68" width="45.64" height="9.05" fill="#FFC000" style="shape-rendering:auto"/>
<text x="34.0" y="452.1" font-size="9.70" fill="#111" textLength="108.0" lengthAdjust="spacingAndGlyphs">Color Your Life V1 Plus3</text>
<text x="205.7" y="453.6" font-size="9.70" fill="#111" textLength="46.4" lengthAdjust="spacingAndGlyphs">1,026,000</text>
<rect x="154.0" y="459.25" width="42.18" height="9.05" fill="#FFC000" style="shape-rendering:auto"/>
<text x="63.7" y="465.7" font-size="9.70" fill="#111" textLength="78.3" lengthAdjust="spacingAndGlyphs">Color your life V1</text>
<text x="201.2" y="467.2" font-size="9.70" fill="#111" textLength="37.4" lengthAdjust="spacingAndGlyphs">949,050</text>
<rect x="154.0" y="472.82" width="18.92" height="9.05" fill="#FFC000" style="shape-rendering:auto"/>
<g aria-label="俺の一目"><text x="105.05" y="481.74" font-size="9.1" fill="#2b2b2b">俺の一目</text></g>
<text x="177.9" y="480.7" font-size="9.70" fill="#111" textLength="37.4" lengthAdjust="spacingAndGlyphs">431,800</text>
<rect x="154.0" y="486.39" width="14.39" height="9.05" fill="#FFC000" style="shape-rendering:auto"/>
<g aria-label="３本の矢"><text x="105.05" y="495.31" font-size="9.1" fill="#2b2b2b">３本の矢</text></g>
<text x="173.4" y="494.3" font-size="9.70" fill="#111" textLength="37.4" lengthAdjust="spacingAndGlyphs">331,110</text>
<rect x="154.0" y="499.97" width="12.32" height="9.05" fill="#FFC000" style="shape-rendering:auto"/>
<g aria-label="オンリーワン（ユーロドル）"><text x="23.15" y="508.89" font-size="9.1" fill="#2b2b2b">オンリーワン（ユーロドル）</text></g>
<text x="171.3" y="507.9" font-size="9.70" fill="#111" textLength="37.4" lengthAdjust="spacingAndGlyphs">285,029</text>
<rect x="154.0" y="513.54" width="10.75" height="9.05" fill="#FFC000" style="shape-rendering:auto"/>
<g aria-label="上がり３ハロン"><text x="77.75" y="522.46" font-size="9.1" fill="#2b2b2b">上がり３ハロン</text></g>
<text x="169.7" y="521.5" font-size="9.70" fill="#111" textLength="37.4" lengthAdjust="spacingAndGlyphs">250,100</text>
<rect x="154.0" y="527.11" width="5.93" height="9.05" fill="#FFC000" style="shape-rendering:auto"/>
<g aria-label="１石２鳥（豪ドル円）"><text x="50.45" y="536.03" font-size="9.1" fill="#2b2b2b">１石２鳥（豪ドル円）</text></g>
<text x="164.9" y="535.0" font-size="9.70" fill="#111" textLength="37.4" lengthAdjust="spacingAndGlyphs">143,100</text>
<rect x="154.0" y="540.68" width="5.90" height="9.05" fill="#FFC000" style="shape-rendering:auto"/>
<g aria-label="１石２鳥（ユーロ円）"><text x="50.45" y="549.6" font-size="9.1" fill="#2b2b2b">１石２鳥（ユーロ円）</text></g>
<text x="164.9" y="548.6" font-size="9.70" fill="#111" textLength="37.4" lengthAdjust="spacingAndGlyphs">142,400</text>
<rect x="154.0" y="554.25" width="5.22" height="9.05" fill="#FFC000" style="shape-rendering:auto"/>
<g aria-label="一本勝ち（ユーロドル）"><text x="41.35" y="563.17" font-size="9.1" fill="#2b2b2b">一本勝ち（ユーロドル）</text></g>
<text x="164.2" y="562.2" font-size="9.70" fill="#111" textLength="37.4" lengthAdjust="spacingAndGlyphs">127,177</text>
<rect x="154.0" y="567.82" width="3.17" height="9.05" fill="#FFC000" style="shape-rendering:auto"/>
<g aria-label="臥薪嘗胆"><text x="105.05" y="576.74" font-size="9.1" fill="#2b2b2b">臥薪嘗胆</text></g>
<text x="161.5" y="575.7" font-size="9.70" fill="#111" textLength="31.7" lengthAdjust="spacingAndGlyphs">81,600</text>
<rect x="154.0" y="581.39" width="2.49" height="9.05" fill="#FFC000" style="shape-rendering:auto"/>
<g aria-label="上がり３ハロン（プレミアム）"><text x="14.05" y="590.31" font-size="9.1" fill="#2b2b2b">上がり３ハロン（プレミアム）</text></g>
<text x="160.8" y="589.3" font-size="9.70" fill="#111" textLength="31.7" lengthAdjust="spacingAndGlyphs">66,500</text>
<line x1="153.50" y1="402.20" x2="153.50" y2="593.20" stroke="#868686" stroke-width="1" style="shape-rendering:auto"/>
<line x1="149.00" y1="402.50" x2="153.50" y2="402.50" stroke="#868686" stroke-width="1" style="shape-rendering:auto"/>
<line x1="149.00" y1="416.50" x2="153.50" y2="416.50" stroke="#868686" stroke-width="1" style="shape-rendering:auto"/>
<line x1="149.00" y1="429.50" x2="153.50" y2="429.50" stroke="#868686" stroke-width="1" style="shape-rendering:auto"/>
<line x1="149.00" y1="443.50" x2="153.50" y2="443.50" stroke="#868686" stroke-width="1" style="shape-rendering:auto"/>
<line x1="149.00" y1="456.50" x2="153.50" y2="456.50" stroke="#868686" stroke-width="1" style="shape-rendering:auto"/>
<line x1="149.00" y1="470.50" x2="153.50" y2="470.50" stroke="#868686" stroke-width="1" style="shape-rendering:auto"/>
<line x1="149.00" y1="484.50" x2="153.50" y2="484.50" stroke="#868686" stroke-width="1" style="shape-rendering:auto"/>
<line x1="149.00" y1="497.50" x2="153.50" y2="497.50" stroke="#868686" stroke-width="1" style="shape-rendering:auto"/>
<line x1="149.00" y1="511.50" x2="153.50" y2="511.50" stroke="#868686" stroke-width="1" style="shape-rendering:auto"/>
<line x1="149.00" y1="524.50" x2="153.50" y2="524.50" stroke="#868686" stroke-width="1" style="shape-rendering:auto"/>
<line x1="149.00" y1="538.50" x2="153.50" y2="538.50" stroke="#868686" stroke-width="1" style="shape-rendering:auto"/>
<line x1="149.00" y1="551.50" x2="153.50" y2="551.50" stroke="#868686" stroke-width="1" style="shape-rendering:auto"/>
<line x1="149.00" y1="565.50" x2="153.50" y2="565.50" stroke="#868686" stroke-width="1" style="shape-rendering:auto"/>
<line x1="149.00" y1="579.50" x2="153.50" y2="579.50" stroke="#868686" stroke-width="1" style="shape-rendering:auto"/>
<line x1="149.00" y1="592.50" x2="153.50" y2="592.50" stroke="#868686" stroke-width="1" style="shape-rendering:auto"/>
<line x1="149.00" y1="592.70" x2="288.90" y2="592.70" stroke="#868686" stroke-width="1" style="shape-rendering:auto"/>
<line x1="153.50" y1="592.70" x2="153.50" y2="596.70" stroke="#868686" stroke-width="1" style="shape-rendering:auto"/>
<text x="148.7" y="610.1" font-size="9.70" fill="#111">0</text>
<line x1="220.50" y1="592.70" x2="220.50" y2="596.70" stroke="#868686" stroke-width="1" style="shape-rendering:auto"/>
<text x="195.8" y="610.1" font-size="9.70" fill="#111" textLength="46.4" lengthAdjust="spacingAndGlyphs">1,500,000</text>
<line x1="288.50" y1="592.70" x2="288.50" y2="596.70" stroke="#868686" stroke-width="1" style="shape-rendering:auto"/>
<text x="263.2" y="610.1" font-size="9.70" fill="#111" textLength="46.4" lengthAdjust="spacingAndGlyphs">3,000,000</text>
</g>
<rect x="334.5" y="355.5" width="319.0" height="265.0" fill="#fff" stroke="#868686"/>
<g aria-label="月平均利益"><text x="454.8" y="380.7" font-size="15" fill="#000" font-weight="bold">月平均利益</text></g>
<g shape-rendering="auto">
<rect x="482.0" y="404.97" width="133.55" height="9.05" fill="#92D050" style="shape-rendering:auto"/>
<g aria-label="１石２鳥（ユーロ円）"><text x="378.45" y="413.89" font-size="9.1" fill="#2b2b2b">１石２鳥（ユーロ円）</text></g>
<text x="611.9" y="412.9" font-size="9.70" fill="#111" textLength="37.4" lengthAdjust="spacingAndGlyphs">142,400</text>
<rect x="482.0" y="418.54" width="95.31" height="9.05" fill="#92D050" style="shape-rendering:auto"/>
<g aria-label="オンリーワン（ドル円）"><text x="369.35" y="427.46" font-size="9.1" fill="#2b2b2b">オンリーワン（ドル円）</text></g>
<text x="581.5" y="426.5" font-size="9.70" fill="#111" textLength="37.4" lengthAdjust="spacingAndGlyphs">101,783</text>
<rect x="482.0" y="432.11" width="77.42" height="9.05" fill="#92D050" style="shape-rendering:auto"/>
<g aria-label="３本の矢"><text x="433.05" y="441.03" font-size="9.1" fill="#2b2b2b">３本の矢</text></g>
<text x="562.9" y="440.0" font-size="9.70" fill="#111" textLength="31.7" lengthAdjust="spacingAndGlyphs">82,778</text>
<rect x="482.0" y="445.68" width="63.69" height="9.05" fill="#92D050" style="shape-rendering:auto"/>
<g aria-label="一本勝ち"><text x="433.05" y="454.6" font-size="9.1" fill="#2b2b2b">一本勝ち</text></g>
<text x="549.2" y="453.6" font-size="9.70" fill="#111" textLength="31.7" lengthAdjust="spacingAndGlyphs">68,194</text>
<rect x="482.0" y="459.25" width="58.81" height="9.05" fill="#92D050" style="shape-rendering:auto"/>
<text x="389.0" y="465.7" font-size="9.70" fill="#111" textLength="81.0" lengthAdjust="spacingAndGlyphs">Color Your Life V2</text>
<text x="544.3" y="467.2" font-size="9.70" fill="#111" textLength="31.7" lengthAdjust="spacingAndGlyphs">63,008</text>
<rect x="482.0" y="472.82" width="34.64" height="9.05" fill="#92D050" style="shape-rendering:auto"/>
<text x="389.0" y="479.2" font-size="9.70" fill="#111" textLength="81.0" lengthAdjust="spacingAndGlyphs">Color Your Life V3</text>
<text x="520.1" y="480.7" font-size="9.70" fill="#111" textLength="31.7" lengthAdjust="spacingAndGlyphs">37,329</text>
<rect x="482.0" y="486.39" width="28.93" height="9.05" fill="#92D050" style="shape-rendering:auto"/>
<g aria-label="上がり３ハロン"><text x="405.75" y="495.31" font-size="9.1" fill="#2b2b2b">上がり３ハロン</text></g>
<text x="514.4" y="494.3" font-size="9.70" fill="#111" textLength="31.7" lengthAdjust="spacingAndGlyphs">31,263</text>
<rect x="482.0" y="499.97" width="26.60" height="9.05" fill="#92D050" style="shape-rendering:auto"/>
<g aria-label="俺の一目"><text x="433.05" y="508.89" font-size="9.1" fill="#2b2b2b">俺の一目</text></g>
<text x="512.1" y="507.9" font-size="9.70" fill="#111" textLength="31.7" lengthAdjust="spacingAndGlyphs">28,787</text>
<rect x="482.0" y="513.54" width="22.50" height="9.05" fill="#92D050" style="shape-rendering:auto"/>
<text x="362.0" y="520.0" font-size="9.70" fill="#111" textLength="108.0" lengthAdjust="spacingAndGlyphs">Color Your Life V1 Plus3</text>
<text x="508.0" y="521.5" font-size="9.70" fill="#111" textLength="31.7" lengthAdjust="spacingAndGlyphs">24,429</text>
<rect x="482.0" y="527.11" width="21.86" height="9.05" fill="#92D050" style="shape-rendering:auto"/>
<g aria-label="オンリーワン（ユーロドル）"><text x="351.15" y="536.03" font-size="9.1" fill="#2b2b2b">オンリーワン（ユーロドル）</text></g>
<text x="507.4" y="535.0" font-size="9.70" fill="#111" textLength="31.7" lengthAdjust="spacingAndGlyphs">23,752</text>
<rect x="482.0" y="540.68" width="16.68" height="9.05" fill="#92D050" style="shape-rendering:auto"/>
<text x="391.7" y="547.1" font-size="9.70" fill="#111" textLength="78.3" lengthAdjust="spacingAndGlyphs">Color your life V1</text>
<text x="502.2" y="548.6" font-size="9.70" fill="#111" textLength="31.7" lengthAdjust="spacingAndGlyphs">18,251</text>
<rect x="482.0" y="554.25" width="9.93" height="9.05" fill="#92D050" style="shape-rendering:auto"/>
<g aria-label="上がり３ハロン（プレミアム）"><text x="342.05" y="563.17" font-size="9.1" fill="#2b2b2b">上がり３ハロン（プレミアム）</text></g>
<text x="495.4" y="562.2" font-size="9.70" fill="#111" textLength="31.7" lengthAdjust="spacingAndGlyphs">11,083</text>
<rect x="482.0" y="567.82" width="8.05" height="9.05" fill="#92D050" style="shape-rendering:auto"/>
<g aria-label="一本勝ち（ユーロドル）"><text x="369.35" y="576.74" font-size="9.1" fill="#2b2b2b">一本勝ち（ユーロドル）</text></g>
<text x="492.9" y="575.7" font-size="9.70" fill="#111" textLength="26.0" lengthAdjust="spacingAndGlyphs">9,084</text>
<rect x="482.0" y="581.39" width="3.34" height="9.05" fill="#92D050" style="shape-rendering:auto"/>
<g aria-label="臥薪嘗胆"><text x="433.05" y="590.31" font-size="9.1" fill="#2b2b2b">臥薪嘗胆</text></g>
<text x="488.2" y="589.3" font-size="9.70" fill="#111" textLength="26.0" lengthAdjust="spacingAndGlyphs">4,080</text>
<line x1="481.50" y1="402.20" x2="481.50" y2="593.20" stroke="#868686" stroke-width="1" style="shape-rendering:auto"/>
<line x1="477.00" y1="402.50" x2="481.50" y2="402.50" stroke="#868686" stroke-width="1" style="shape-rendering:auto"/>
<line x1="477.00" y1="416.50" x2="481.50" y2="416.50" stroke="#868686" stroke-width="1" style="shape-rendering:auto"/>
<line x1="477.00" y1="429.50" x2="481.50" y2="429.50" stroke="#868686" stroke-width="1" style="shape-rendering:auto"/>
<line x1="477.00" y1="443.50" x2="481.50" y2="443.50" stroke="#868686" stroke-width="1" style="shape-rendering:auto"/>
<line x1="477.00" y1="456.50" x2="481.50" y2="456.50" stroke="#868686" stroke-width="1" style="shape-rendering:auto"/>
<line x1="477.00" y1="470.50" x2="481.50" y2="470.50" stroke="#868686" stroke-width="1" style="shape-rendering:auto"/>
<line x1="477.00" y1="484.50" x2="481.50" y2="484.50" stroke="#868686" stroke-width="1" style="shape-rendering:auto"/>
<line x1="477.00" y1="497.50" x2="481.50" y2="497.50" stroke="#868686" stroke-width="1" style="shape-rendering:auto"/>
<line x1="477.00" y1="511.50" x2="481.50" y2="511.50" stroke="#868686" stroke-width="1" style="shape-rendering:auto"/>
<line x1="477.00" y1="524.50" x2="481.50" y2="524.50" stroke="#868686" stroke-width="1" style="shape-rendering:auto"/>
<line x1="477.00" y1="538.50" x2="481.50" y2="538.50" stroke="#868686" stroke-width="1" style="shape-rendering:auto"/>
<line x1="477.00" y1="551.50" x2="481.50" y2="551.50" stroke="#868686" stroke-width="1" style="shape-rendering:auto"/>
<line x1="477.00" y1="565.50" x2="481.50" y2="565.50" stroke="#868686" stroke-width="1" style="shape-rendering:auto"/>
<line x1="477.00" y1="579.50" x2="481.50" y2="579.50" stroke="#868686" stroke-width="1" style="shape-rendering:auto"/>
<line x1="477.00" y1="592.50" x2="481.50" y2="592.50" stroke="#868686" stroke-width="1" style="shape-rendering:auto"/>
<line x1="477.00" y1="592.70" x2="623.20" y2="592.70" stroke="#868686" stroke-width="1" style="shape-rendering:auto"/>
<line x1="481.50" y1="592.70" x2="481.50" y2="596.70" stroke="#868686" stroke-width="1" style="shape-rendering:auto"/>
<text x="476.7" y="610.1" font-size="9.70" fill="#111">0</text>
<line x1="528.50" y1="592.70" x2="528.50" y2="596.70" stroke="#868686" stroke-width="1" style="shape-rendering:auto"/>
<text x="510.7" y="610.1" font-size="9.70" fill="#111" textLength="31.7" lengthAdjust="spacingAndGlyphs">50,000</text>
<line x1="575.50" y1="592.70" x2="575.50" y2="596.70" stroke="#868686" stroke-width="1" style="shape-rendering:auto"/>
<text x="554.9" y="610.1" font-size="9.70" fill="#111" textLength="37.4" lengthAdjust="spacingAndGlyphs">100,000</text>
<line x1="622.50" y1="592.70" x2="622.50" y2="596.70" stroke="#868686" stroke-width="1" style="shape-rendering:auto"/>
<text x="602.0" y="610.1" font-size="9.70" fill="#111" textLength="37.4" lengthAdjust="spacingAndGlyphs">150,000</text>
</g>
<rect x="663.5" y="355.5" width="325.0" height="265.0" fill="#fff" stroke="#868686"/>
<g aria-label="週間平均取引数"><text x="771.15" y="380.7" font-size="15" fill="#000" font-weight="bold">週間平均取引数</text></g>
<g shape-rendering="auto">
<rect x="811.0" y="404.97" width="136.08" height="9.05" fill="#E59CA6" style="shape-rendering:auto"/>
<text x="718.0" y="411.4" font-size="9.70" fill="#111" textLength="81.0" lengthAdjust="spacingAndGlyphs">Color Your Life V2</text>
<text x="952.4" y="412.9" font-size="9.70" fill="#111">9</text>
<rect x="811.0" y="418.54" width="134.33" height="9.05" fill="#E59CA6" style="shape-rendering:auto"/>
<g aria-label="３本の矢"><text x="762.05" y="427.46" font-size="9.1" fill="#2b2b2b">３本の矢</text></g>
<text x="950.6" y="426.5" font-size="9.70" fill="#111">8</text>
<rect x="811.0" y="432.11" width="79.16" height="9.05" fill="#E59CA6" style="shape-rendering:auto"/>
<text x="720.7" y="438.5" font-size="9.70" fill="#111" textLength="78.3" lengthAdjust="spacingAndGlyphs">Color your life V1</text>
<text x="895.4" y="440.0" font-size="9.70" fill="#111">5</text>
<rect x="811.0" y="445.68" width="75.03" height="9.05" fill="#E59CA6" style="shape-rendering:auto"/>
<text x="691.0" y="452.1" font-size="9.70" fill="#111" textLength="108.0" lengthAdjust="spacingAndGlyphs">Color Your Life V1 Plus3</text>
<text x="891.3" y="453.6" font-size="9.70" fill="#111">5</text>
<rect x="811.0" y="459.25" width="75.03" height="9.05" fill="#E59CA6" style="shape-rendering:auto"/>
<g aria-label="一本勝ち"><text x="762.05" y="468.17" font-size="9.1" fill="#2b2b2b">一本勝ち</text></g>
<text x="891.3" y="467.2" font-size="9.70" fill="#111">5</text>
<rect x="811.0" y="472.82" width="63.10" height="9.05" fill="#E59CA6" style="shape-rendering:auto"/>
<g aria-label="一本勝ち（ユーロドル）"><text x="698.35" y="481.74" font-size="9.1" fill="#2b2b2b">一本勝ち（ユーロドル）</text></g>
<text x="879.4" y="480.7" font-size="9.70" fill="#111">4</text>
<rect x="811.0" y="486.39" width="61.03" height="9.05" fill="#E59CA6" style="shape-rendering:auto"/>
<g aria-label="オンリーワン（ドル円）"><text x="698.35" y="495.31" font-size="9.1" fill="#2b2b2b">オンリーワン（ドル円）</text></g>
<text x="877.3" y="494.3" font-size="9.70" fill="#111">4</text>
<rect x="811.0" y="499.97" width="52.92" height="9.05" fill="#E59CA6" style="shape-rendering:auto"/>
<g aria-label="オンリーワン（ユーロドル）"><text x="680.15" y="508.89" font-size="9.1" fill="#2b2b2b">オンリーワン（ユーロドル）</text></g>
<text x="869.2" y="507.9" font-size="9.70" fill="#111">3</text>
<rect x="811.0" y="513.54" width="33.05" height="9.05" fill="#E59CA6" style="shape-rendering:auto"/>
<g aria-label="俺の一目"><text x="762.05" y="522.46" font-size="9.1" fill="#2b2b2b">俺の一目</text></g>
<text x="849.3" y="521.5" font-size="9.70" fill="#111">2</text>
<rect x="811.0" y="527.11" width="31.78" height="9.05" fill="#E59CA6" style="shape-rendering:auto"/>
<g aria-label="１石２鳥（豪ドル円）"><text x="707.45" y="536.03" font-size="9.1" fill="#2b2b2b">１石２鳥（豪ドル円）</text></g>
<text x="848.1" y="535.0" font-size="9.70" fill="#111">2</text>
<rect x="811.0" y="540.68" width="31.78" height="9.05" fill="#E59CA6" style="shape-rendering:auto"/>
<g aria-label="１石２鳥（ユーロ円）"><text x="707.45" y="549.6" font-size="9.1" fill="#2b2b2b">１石２鳥（ユーロ円）</text></g>
<text x="848.1" y="548.6" font-size="9.70" fill="#111">2</text>
<rect x="811.0" y="554.25" width="26.69" height="9.05" fill="#E59CA6" style="shape-rendering:auto"/>
<g aria-label="臥薪嘗胆"><text x="762.05" y="563.17" font-size="9.1" fill="#2b2b2b">臥薪嘗胆</text></g>
<text x="843.0" y="562.2" font-size="9.70" fill="#111">2</text>
<rect x="811.0" y="567.82" width="13.97" height="9.05" fill="#E59CA6" style="shape-rendering:auto"/>
<g aria-label="上がり３ハロン"><text x="734.75" y="576.74" font-size="9.1" fill="#2b2b2b">上がり３ハロン</text></g>
<text x="830.3" y="575.7" font-size="9.70" fill="#111">1</text>
<rect x="811.0" y="581.39" width="7.93" height="9.05" fill="#E59CA6" style="shape-rendering:auto"/>
<g aria-label="上がり３ハロン（プレミアム）"><text x="671.05" y="590.31" font-size="9.1" fill="#2b2b2b">上がり３ハロン（プレミアム）</text></g>
<text x="824.2" y="589.3" font-size="9.70" fill="#111">1</text>
<line x1="810.50" y1="402.20" x2="810.50" y2="593.20" stroke="#868686" stroke-width="1" style="shape-rendering:auto"/>
<line x1="806.00" y1="402.50" x2="810.50" y2="402.50" stroke="#868686" stroke-width="1" style="shape-rendering:auto"/>
<line x1="806.00" y1="416.50" x2="810.50" y2="416.50" stroke="#868686" stroke-width="1" style="shape-rendering:auto"/>
<line x1="806.00" y1="429.50" x2="810.50" y2="429.50" stroke="#868686" stroke-width="1" style="shape-rendering:auto"/>
<line x1="806.00" y1="443.50" x2="810.50" y2="443.50" stroke="#868686" stroke-width="1" style="shape-rendering:auto"/>
<line x1="806.00" y1="456.50" x2="810.50" y2="456.50" stroke="#868686" stroke-width="1" style="shape-rendering:auto"/>
<line x1="806.00" y1="470.50" x2="810.50" y2="470.50" stroke="#868686" stroke-width="1" style="shape-rendering:auto"/>
<line x1="806.00" y1="484.50" x2="810.50" y2="484.50" stroke="#868686" stroke-width="1" style="shape-rendering:auto"/>
<line x1="806.00" y1="497.50" x2="810.50" y2="497.50" stroke="#868686" stroke-width="1" style="shape-rendering:auto"/>
<line x1="806.00" y1="511.50" x2="810.50" y2="511.50" stroke="#868686" stroke-width="1" style="shape-rendering:auto"/>
<line x1="806.00" y1="524.50" x2="810.50" y2="524.50" stroke="#868686" stroke-width="1" style="shape-rendering:auto"/>
<line x1="806.00" y1="538.50" x2="810.50" y2="538.50" stroke="#868686" stroke-width="1" style="shape-rendering:auto"/>
<line x1="806.00" y1="551.50" x2="810.50" y2="551.50" stroke="#868686" stroke-width="1" style="shape-rendering:auto"/>
<line x1="806.00" y1="565.50" x2="810.50" y2="565.50" stroke="#868686" stroke-width="1" style="shape-rendering:auto"/>
<line x1="806.00" y1="579.50" x2="810.50" y2="579.50" stroke="#868686" stroke-width="1" style="shape-rendering:auto"/>
<line x1="806.00" y1="592.50" x2="810.50" y2="592.50" stroke="#868686" stroke-width="1" style="shape-rendering:auto"/>
<line x1="806.00" y1="592.70" x2="970.00" y2="592.70" stroke="#868686" stroke-width="1" style="shape-rendering:auto"/>
<line x1="810.50" y1="592.70" x2="810.50" y2="596.70" stroke="#868686" stroke-width="1" style="shape-rendering:auto"/>
<text x="805.7" y="610.1" font-size="9.70" fill="#111">0</text>
<line x1="842.50" y1="592.70" x2="842.50" y2="596.70" stroke="#868686" stroke-width="1" style="shape-rendering:auto"/>
<text x="837.5" y="610.1" font-size="9.70" fill="#111">2</text>
<line x1="874.50" y1="592.70" x2="874.50" y2="596.70" stroke="#868686" stroke-width="1" style="shape-rendering:auto"/>
<text x="869.3" y="610.1" font-size="9.70" fill="#111">4</text>
<line x1="905.50" y1="592.70" x2="905.50" y2="596.70" stroke="#868686" stroke-width="1" style="shape-rendering:auto"/>
<text x="901.1" y="610.1" font-size="9.70" fill="#111">6</text>
<line x1="937.50" y1="592.70" x2="937.50" y2="596.70" stroke="#868686" stroke-width="1" style="shape-rendering:auto"/>
<text x="932.9" y="610.1" font-size="9.70" fill="#111">8</text>
<line x1="969.50" y1="592.70" x2="969.50" y2="596.70" stroke="#868686" stroke-width="1" style="shape-rendering:auto"/>
<text x="961.8" y="610.1" font-size="9.70" fill="#111" textLength="11.4" lengthAdjust="spacingAndGlyphs">10</text>
</g>
<rect x="6.5" y="632.5" width="317.0" height="265.0" fill="#fff" stroke="#868686"/>
<g aria-label="勝率"><text x="149.68" y="658.7" font-size="15" fill="#000" font-weight="bold">勝率</text></g>
<g shape-rendering="auto">
<rect x="154.0" y="681.97" width="139.47" height="9.05" fill="#00B0F0" style="shape-rendering:auto"/>
<g aria-label="上がり３ハロン"><text x="77.75" y="690.89" font-size="9.1" fill="#2b2b2b">上がり３ハロン</text></g>
<text x="298.6" y="689.9" font-size="9.70" fill="#111" textLength="21.0" lengthAdjust="spacingAndGlyphs">96%</text>
<rect x="154.0" y="695.54" width="133.64" height="9.05" fill="#00B0F0" style="shape-rendering:auto"/>
<g aria-label="上がり３ハロン（プレミアム）"><text x="14.05" y="704.46" font-size="9.1" fill="#2b2b2b">上がり３ハロン（プレミアム）</text></g>
<text x="292.8" y="703.5" font-size="9.70" fill="#111" textLength="21.0" lengthAdjust="spacingAndGlyphs">92%</text>
<rect x="154.0" y="709.11" width="121.97" height="9.05" fill="#00B0F0" style="shape-rendering:auto"/>
<text x="63.7" y="715.5" font-size="9.70" fill="#111" textLength="78.3" lengthAdjust="spacingAndGlyphs">Color your life V1</text>
<text x="281.1" y="717.0" font-size="9.70" fill="#111" textLength="21.0" lengthAdjust="spacingAndGlyphs">84%</text>
<rect x="154.0" y="722.68" width="111.77" height="9.05" fill="#00B0F0" style="shape-rendering:auto"/>
<g aria-label="１石２鳥（ユーロ円）"><text x="50.45" y="731.6" font-size="9.1" fill="#2b2b2b">１石２鳥（ユーロ円）</text></g>
<text x="270.9" y="730.6" font-size="9.70" fill="#111" textLength="21.0" lengthAdjust="spacingAndGlyphs">77%</text>
<rect x="154.0" y="736.25" width="111.77" height="9.05" fill="#00B0F0" style="shape-rendering:auto"/>
<g aria-label="一本勝ち"><text x="105.05" y="745.17" font-size="9.1" fill="#2b2b2b">一本勝ち</text></g>
<text x="270.9" y="744.2" font-size="9.70" fill="#111" textLength="21.0" lengthAdjust="spacingAndGlyphs">77%</text>
<rect x="154.0" y="749.82" width="107.39" height="9.05" fill="#00B0F0" style="shape-rendering:auto"/>
<text x="61.0" y="756.2" font-size="9.70" fill="#111" textLength="81.0" lengthAdjust="spacingAndGlyphs">Color Your Life V2</text>
<text x="266.5" y="757.7" font-size="9.70" fill="#111" textLength="21.0" lengthAdjust="spacingAndGlyphs">74%</text>
<rect x="154.0" y="763.39" width="100.10" height="9.05" fill="#00B0F0" style="shape-rendering:auto"/>
<g aria-label="一本勝ち（ユーロドル）"><text x="41.35" y="772.31" font-size="9.1" fill="#2b2b2b">一本勝ち（ユーロドル）</text></g>
<text x="259.2" y="771.3" font-size="9.70" fill="#111" textLength="21.0" lengthAdjust="spacingAndGlyphs">69%</text>
<rect x="154.0" y="776.97" width="100.10" height="9.05" fill="#00B0F0" style="shape-rendering:auto"/>
<text x="61.0" y="783.4" font-size="9.70" fill="#111" textLength="81.0" lengthAdjust="spacingAndGlyphs">Color Your Life V3</text>
<text x="259.2" y="784.9" font-size="9.70" fill="#111" textLength="21.0" lengthAdjust="spacingAndGlyphs">69%</text>
<rect x="154.0" y="790.54" width="78.23" height="9.05" fill="#00B0F0" style="shape-rendering:auto"/>
<g aria-label="俺の一目"><text x="105.05" y="799.46" font-size="9.1" fill="#2b2b2b">俺の一目</text></g>
<text x="237.4" y="798.5" font-size="9.70" fill="#111" textLength="21.0" lengthAdjust="spacingAndGlyphs">54%</text>
<rect x="154.0" y="804.11" width="76.77" height="9.05" fill="#00B0F0" style="shape-rendering:auto"/>
<text x="34.0" y="810.5" font-size="9.70" fill="#111" textLength="108.0" lengthAdjust="spacingAndGlyphs">Color Your Life V1 Plus3</text>
<text x="235.9" y="812.0" font-size="9.70" fill="#111" textLength="21.0" lengthAdjust="spacingAndGlyphs">53%</text>
<rect x="154.0" y="817.68" width="65.11" height="9.05" fill="#00B0F0" style="shape-rendering:auto"/>
<g aria-label="オンリーワン（ドル円）"><text x="41.35" y="826.6" font-size="9.1" fill="#2b2b2b">オンリーワン（ドル円）</text></g>
<text x="224.2" y="825.6" font-size="9.70" fill="#111" textLength="21.0" lengthAdjust="spacingAndGlyphs">45%</text>
<rect x="154.0" y="831.25" width="65.11" height="9.05" fill="#00B0F0" style="shape-rendering:auto"/>
<g aria-label="臥薪嘗胆"><text x="105.05" y="840.17" font-size="9.1" fill="#2b2b2b">臥薪嘗胆</text></g>
<text x="224.2" y="839.2" font-size="9.70" fill="#111" textLength="21.0" lengthAdjust="spacingAndGlyphs">45%</text>
<rect x="154.0" y="844.82" width="65.11" height="9.05" fill="#00B0F0" style="shape-rendering:auto"/>
<g aria-label="３本の矢"><text x="105.05" y="853.74" font-size="9.1" fill="#2b2b2b">３本の矢</text></g>
<text x="224.2" y="852.7" font-size="9.70" fill="#111" textLength="21.0" lengthAdjust="spacingAndGlyphs">45%</text>
<rect x="154.0" y="858.39" width="57.82" height="9.05" fill="#00B0F0" style="shape-rendering:auto"/>
<g aria-label="オンリーワン（ユーロドル）"><text x="23.15" y="867.31" font-size="9.1" fill="#2b2b2b">オンリーワン（ユーロドル）</text></g>
<text x="216.9" y="866.3" font-size="9.70" fill="#111" textLength="21.0" lengthAdjust="spacingAndGlyphs">40%</text>
<line x1="153.50" y1="679.20" x2="153.50" y2="870.20" stroke="#868686" stroke-width="1" style="shape-rendering:auto"/>
<line x1="149.00" y1="679.50" x2="153.50" y2="679.50" stroke="#868686" stroke-width="1" style="shape-rendering:auto"/>
<line x1="149.00" y1="693.50" x2="153.50" y2="693.50" stroke="#868686" stroke-width="1" style="shape-rendering:auto"/>
<line x1="149.00" y1="706.50" x2="153.50" y2="706.50" stroke="#868686" stroke-width="1" style="shape-rendering:auto"/>
<line x1="149.00" y1="720.50" x2="153.50" y2="720.50" stroke="#868686" stroke-width="1" style="shape-rendering:auto"/>
<line x1="149.00" y1="733.50" x2="153.50" y2="733.50" stroke="#868686" stroke-width="1" style="shape-rendering:auto"/>
<line x1="149.00" y1="747.50" x2="153.50" y2="747.50" stroke="#868686" stroke-width="1" style="shape-rendering:auto"/>
<line x1="149.00" y1="761.50" x2="153.50" y2="761.50" stroke="#868686" stroke-width="1" style="shape-rendering:auto"/>
<line x1="149.00" y1="774.50" x2="153.50" y2="774.50" stroke="#868686" stroke-width="1" style="shape-rendering:auto"/>
<line x1="149.00" y1="788.50" x2="153.50" y2="788.50" stroke="#868686" stroke-width="1" style="shape-rendering:auto"/>
<line x1="149.00" y1="801.50" x2="153.50" y2="801.50" stroke="#868686" stroke-width="1" style="shape-rendering:auto"/>
<line x1="149.00" y1="815.50" x2="153.50" y2="815.50" stroke="#868686" stroke-width="1" style="shape-rendering:auto"/>
<line x1="149.00" y1="828.50" x2="153.50" y2="828.50" stroke="#868686" stroke-width="1" style="shape-rendering:auto"/>
<line x1="149.00" y1="842.50" x2="153.50" y2="842.50" stroke="#868686" stroke-width="1" style="shape-rendering:auto"/>
<line x1="149.00" y1="856.50" x2="153.50" y2="856.50" stroke="#868686" stroke-width="1" style="shape-rendering:auto"/>
<line x1="149.00" y1="869.50" x2="153.50" y2="869.50" stroke="#868686" stroke-width="1" style="shape-rendering:auto"/>
<line x1="149.00" y1="869.70" x2="299.80" y2="869.70" stroke="#868686" stroke-width="1" style="shape-rendering:auto"/>
<line x1="153.50" y1="869.70" x2="153.50" y2="873.70" stroke="#868686" stroke-width="1" style="shape-rendering:auto"/>
<text x="143.8" y="887.1" font-size="9.70" fill="#111" textLength="15.3" lengthAdjust="spacingAndGlyphs">0%</text>
<line x1="182.50" y1="869.70" x2="182.50" y2="873.70" stroke="#868686" stroke-width="1" style="shape-rendering:auto"/>
<text x="170.2" y="887.1" font-size="9.70" fill="#111" textLength="21.0" lengthAdjust="spacingAndGlyphs">20%</text>
<line x1="211.50" y1="869.70" x2="211.50" y2="873.70" stroke="#868686" stroke-width="1" style="shape-rendering:auto"/>
<text x="199.3" y="887.1" font-size="9.70" fill="#111" textLength="21.0" lengthAdjust="spacingAndGlyphs">40%</text>
<line x1="240.50" y1="869.70" x2="240.50" y2="873.70" stroke="#868686" stroke-width="1" style="shape-rendering:auto"/>
<text x="228.5" y="887.1" font-size="9.70" fill="#111" textLength="21.0" lengthAdjust="spacingAndGlyphs">60%</text>
<line x1="270.50" y1="869.70" x2="270.50" y2="873.70" stroke="#868686" stroke-width="1" style="shape-rendering:auto"/>
<text x="257.6" y="887.1" font-size="9.70" fill="#111" textLength="21.0" lengthAdjust="spacingAndGlyphs">80%</text>
<line x1="299.50" y1="869.70" x2="299.50" y2="873.70" stroke="#868686" stroke-width="1" style="shape-rendering:auto"/>
<text x="283.9" y="887.1" font-size="9.70" fill="#111" textLength="26.7" lengthAdjust="spacingAndGlyphs">100%</text>
</g>
<rect x="334.5" y="632.5" width="324.0" height="265.0" fill="#fff" stroke="#868686"/>
<g aria-label="1回取引期待利益"><text x="438.3" y="658.7" font-size="15.40" fill="#000" font-weight="bold">1</text><text x="448.25" y="658.7" font-size="15" fill="#000" font-weight="bold">回取引期待利益</text></g>
<g shape-rendering="auto">
<rect x="482.0" y="681.97" width="117.37" height="9.05" fill="#A188B6" style="shape-rendering:auto"/>
<g aria-label="１石２鳥（ユーロ円）"><text x="378.45" y="690.89" font-size="9.1" fill="#2b2b2b">１石２鳥（ユーロ円）</text></g>
<text x="604.9" y="689.9" font-size="9.70" fill="#111" textLength="31.7" lengthAdjust="spacingAndGlyphs">15,822</text>
<rect x="482.0" y="695.54" width="57.73" height="9.05" fill="#A188B6" style="shape-rendering:auto"/>
<g aria-label="上がり３ハロン"><text x="405.75" y="704.46" font-size="9.1" fill="#2b2b2b">上がり３ハロン</text></g>
<text x="544.6" y="703.5" font-size="9.70" fill="#111" textLength="26.0" lengthAdjust="spacingAndGlyphs">7,816</text>
<rect x="482.0" y="709.11" width="44.77" height="9.05" fill="#A188B6" style="shape-rendering:auto"/>
<g aria-label="オンリーワン（ドル円）"><text x="369.35" y="718.03" font-size="9.1" fill="#2b2b2b">オンリーワン（ドル円）</text></g>
<text x="531.6" y="717.0" font-size="9.70" fill="#111" textLength="26.0" lengthAdjust="spacingAndGlyphs">6,077</text>
<rect x="482.0" y="722.68" width="34.89" height="9.05" fill="#A188B6" style="shape-rendering:auto"/>
<g aria-label="上がり３ハロン（プレミアム）"><text x="342.05" y="731.6" font-size="9.1" fill="#2b2b2b">上がり３ハロン（プレミアム）</text></g>
<text x="521.7" y="730.6" font-size="9.70" fill="#111" textLength="26.0" lengthAdjust="spacingAndGlyphs">4,750</text>
<rect x="482.0" y="736.25" width="24.24" height="9.05" fill="#A188B6" style="shape-rendering:auto"/>
<g aria-label="一本勝ち"><text x="433.05" y="745.17" font-size="9.1" fill="#2b2b2b">一本勝ち</text></g>
<text x="511.1" y="744.2" font-size="9.70" fill="#111" textLength="26.0" lengthAdjust="spacingAndGlyphs">3,321</text>
<rect x="482.0" y="749.82" width="22.98" height="9.05" fill="#A188B6" style="shape-rendering:auto"/>
<g aria-label="俺の一目"><text x="433.05" y="758.74" font-size="9.1" fill="#2b2b2b">俺の一目</text></g>
<text x="509.8" y="757.7" font-size="9.70" fill="#111" textLength="26.0" lengthAdjust="spacingAndGlyphs">3,152</text>
<rect x="482.0" y="763.39" width="16.40" height="9.05" fill="#A188B6" style="shape-rendering:auto"/>
<g aria-label="３本の矢"><text x="433.05" y="772.31" font-size="9.1" fill="#2b2b2b">３本の矢</text></g>
<text x="503.2" y="771.3" font-size="9.70" fill="#111" textLength="26.0" lengthAdjust="spacingAndGlyphs">2,268</text>
<rect x="482.0" y="776.97" width="12.14" height="9.05" fill="#A188B6" style="shape-rendering:auto"/>
<text x="389.0" y="783.4" font-size="9.70" fill="#111" textLength="81.0" lengthAdjust="spacingAndGlyphs">Color Your Life V2</text>
<text x="499.0" y="784.9" font-size="9.70" fill="#111" textLength="26.0" lengthAdjust="spacingAndGlyphs">1,697</text>
<rect x="482.0" y="790.54" width="11.64" height="9.05" fill="#A188B6" style="shape-rendering:auto"/>
<g aria-label="オンリーワン（ユーロドル）"><text x="351.15" y="799.46" font-size="9.1" fill="#2b2b2b">オンリーワン（ユーロドル）</text></g>
<text x="498.5" y="798.5" font-size="9.70" fill="#111" textLength="26.0" lengthAdjust="spacingAndGlyphs">1,629</text>
<rect x="482.0" y="804.11" width="8.31" height="9.05" fill="#A188B6" style="shape-rendering:auto"/>
<text x="362.0" y="810.5" font-size="9.70" fill="#111" textLength="108.0" lengthAdjust="spacingAndGlyphs">Color Your Life V1 Plus3</text>
<text x="495.1" y="812.0" font-size="9.70" fill="#111" textLength="26.0" lengthAdjust="spacingAndGlyphs">1,183</text>
<rect x="482.0" y="817.68" width="5.74" height="9.05" fill="#A188B6" style="shape-rendering:auto"/>
<text x="391.7" y="824.1" font-size="9.70" fill="#111" textLength="78.3" lengthAdjust="spacingAndGlyphs">Color your life V1</text>
<text x="491.5" y="825.6" font-size="9.70" fill="#111" textLength="17.1" lengthAdjust="spacingAndGlyphs">837</text>
<rect x="482.0" y="831.25" width="5.16" height="9.05" fill="#A188B6" style="shape-rendering:auto"/>
<text x="389.0" y="837.7" font-size="9.70" fill="#111" textLength="81.0" lengthAdjust="spacingAndGlyphs">Color Your Life V3</text>
<text x="490.9" y="839.2" font-size="9.70" fill="#111" textLength="17.1" lengthAdjust="spacingAndGlyphs">760</text>
<rect x="482.0" y="844.82" width="3.52" height="9.05" fill="#A188B6" style="shape-rendering:auto"/>
<g aria-label="臥薪嘗胆"><text x="433.05" y="853.74" font-size="9.1" fill="#2b2b2b">臥薪嘗胆</text></g>
<text x="489.3" y="852.7" font-size="9.70" fill="#111" textLength="17.1" lengthAdjust="spacingAndGlyphs">540</text>
<rect x="482.0" y="858.39" width="3.42" height="9.05" fill="#A188B6" style="shape-rendering:auto"/>
<g aria-label="一本勝ち（ユーロドル）"><text x="369.35" y="867.31" font-size="9.1" fill="#2b2b2b">一本勝ち（ユーロドル）</text></g>
<text x="489.2" y="866.3" font-size="9.70" fill="#111" textLength="17.1" lengthAdjust="spacingAndGlyphs">526</text>
<line x1="481.50" y1="679.20" x2="481.50" y2="870.20" stroke="#868686" stroke-width="1" style="shape-rendering:auto"/>
<line x1="477.00" y1="679.50" x2="481.50" y2="679.50" stroke="#868686" stroke-width="1" style="shape-rendering:auto"/>
<line x1="477.00" y1="693.50" x2="481.50" y2="693.50" stroke="#868686" stroke-width="1" style="shape-rendering:auto"/>
<line x1="477.00" y1="706.50" x2="481.50" y2="706.50" stroke="#868686" stroke-width="1" style="shape-rendering:auto"/>
<line x1="477.00" y1="720.50" x2="481.50" y2="720.50" stroke="#868686" stroke-width="1" style="shape-rendering:auto"/>
<line x1="477.00" y1="733.50" x2="481.50" y2="733.50" stroke="#868686" stroke-width="1" style="shape-rendering:auto"/>
<line x1="477.00" y1="747.50" x2="481.50" y2="747.50" stroke="#868686" stroke-width="1" style="shape-rendering:auto"/>
<line x1="477.00" y1="761.50" x2="481.50" y2="761.50" stroke="#868686" stroke-width="1" style="shape-rendering:auto"/>
<line x1="477.00" y1="774.50" x2="481.50" y2="774.50" stroke="#868686" stroke-width="1" style="shape-rendering:auto"/>
<line x1="477.00" y1="788.50" x2="481.50" y2="788.50" stroke="#868686" stroke-width="1" style="shape-rendering:auto"/>
<line x1="477.00" y1="801.50" x2="481.50" y2="801.50" stroke="#868686" stroke-width="1" style="shape-rendering:auto"/>
<line x1="477.00" y1="815.50" x2="481.50" y2="815.50" stroke="#868686" stroke-width="1" style="shape-rendering:auto"/>
<line x1="477.00" y1="828.50" x2="481.50" y2="828.50" stroke="#868686" stroke-width="1" style="shape-rendering:auto"/>
<line x1="477.00" y1="842.50" x2="481.50" y2="842.50" stroke="#868686" stroke-width="1" style="shape-rendering:auto"/>
<line x1="477.00" y1="856.50" x2="481.50" y2="856.50" stroke="#868686" stroke-width="1" style="shape-rendering:auto"/>
<line x1="477.00" y1="869.50" x2="481.50" y2="869.50" stroke="#868686" stroke-width="1" style="shape-rendering:auto"/>
<line x1="477.00" y1="869.70" x2="631.00" y2="869.70" stroke="#868686" stroke-width="1" style="shape-rendering:auto"/>
<line x1="481.50" y1="869.70" x2="481.50" y2="873.70" stroke="#868686" stroke-width="1" style="shape-rendering:auto"/>
<text x="476.7" y="887.1" font-size="9.70" fill="#111">0</text>
<line x1="518.50" y1="869.70" x2="518.50" y2="873.70" stroke="#868686" stroke-width="1" style="shape-rendering:auto"/>
<text x="503.7" y="887.1" font-size="9.70" fill="#111" textLength="26.0" lengthAdjust="spacingAndGlyphs">5,000</text>
<line x1="556.50" y1="869.70" x2="556.50" y2="873.70" stroke="#868686" stroke-width="1" style="shape-rendering:auto"/>
<text x="538.1" y="887.1" font-size="9.70" fill="#111" textLength="31.7" lengthAdjust="spacingAndGlyphs">10,000</text>
<line x1="593.50" y1="869.70" x2="593.50" y2="873.70" stroke="#868686" stroke-width="1" style="shape-rendering:auto"/>
<text x="575.4" y="887.1" font-size="9.70" fill="#111" textLength="31.7" lengthAdjust="spacingAndGlyphs">15,000</text>
<line x1="630.50" y1="869.70" x2="630.50" y2="873.70" stroke="#868686" stroke-width="1" style="shape-rendering:auto"/>
<text x="612.6" y="887.1" font-size="9.70" fill="#111" textLength="31.7" lengthAdjust="spacingAndGlyphs">20,000</text>
</g>
<rect x="663.5" y="632.5" width="325.0" height="265.0" fill="#fff" stroke="#868686"/>
<g aria-label="最大DD"><text x="796.89" y="658.7" font-size="15" fill="#000" font-weight="bold">最大</text><text x="827.1" y="658.7" font-size="15.40" fill="#000" font-weight="bold" textLength="23.6" lengthAdjust="spacingAndGlyphs">DD</text></g>
<g shape-rendering="auto">
<rect x="811.0" y="681.97" width="25.61" height="9.05" fill="#A6A6A6" style="shape-rendering:auto"/>
<text x="691.0" y="688.4" font-size="9.70" fill="#111" textLength="108.0" lengthAdjust="spacingAndGlyphs">Color Your Life V1 Plus3</text>
<text x="842.7" y="689.9" font-size="9.30" fill="#111" textLength="32.6" lengthAdjust="spacingAndGlyphs">184,290</text>
<rect x="811.0" y="695.54" width="36.58" height="9.05" fill="#A6A6A6" style="shape-rendering:auto"/>
<g aria-label="上がり３ハロン"><text x="734.75" y="704.46" font-size="9.1" fill="#2b2b2b">上がり３ハロン</text></g>
<text x="853.7" y="703.5" font-size="9.30" fill="#111" textLength="32.6" lengthAdjust="spacingAndGlyphs">261,680</text>
<rect x="811.0" y="709.11" width="39.83" height="9.05" fill="#A6A6A6" style="shape-rendering:auto"/>
<g aria-label="上がり３ハロン（プレミアム）"><text x="671.05" y="718.03" font-size="9.1" fill="#2b2b2b">上がり３ハロン（プレミアム）</text></g>
<text x="856.9" y="717.0" font-size="9.30" fill="#111" textLength="32.6" lengthAdjust="spacingAndGlyphs">284,640</text>
<rect x="811.0" y="722.68" width="47.99" height="9.05" fill="#A6A6A6" style="shape-rendering:auto"/>
<text x="720.7" y="729.1" font-size="9.70" fill="#111" textLength="78.3" lengthAdjust="spacingAndGlyphs">Color your life V1</text>
<text x="865.1" y="730.6" font-size="9.30" fill="#111" textLength="32.6" lengthAdjust="spacingAndGlyphs">342,220</text>
<rect x="811.0" y="736.25" width="58.82" height="9.05" fill="#A6A6A6" style="shape-rendering:auto"/>
<text x="718.0" y="742.7" font-size="9.70" fill="#111" textLength="81.0" lengthAdjust="spacingAndGlyphs">Color Your Life V2</text>
<text x="875.9" y="744.2" font-size="9.30" fill="#111" textLength="32.6" lengthAdjust="spacingAndGlyphs">418,660</text>
<rect x="811.0" y="749.82" width="65.52" height="9.05" fill="#A6A6A6" style="shape-rendering:auto"/>
<g aria-label="一本勝ち"><text x="762.05" y="758.74" font-size="9.1" fill="#2b2b2b">一本勝ち</text></g>
<text x="882.6" y="757.7" font-size="9.30" fill="#111" textLength="32.6" lengthAdjust="spacingAndGlyphs">465,880</text>
<rect x="811.0" y="763.39" width="83.52" height="9.05" fill="#A6A6A6" style="shape-rendering:auto"/>
<g aria-label="オンリーワン（ドル円）"><text x="698.35" y="772.31" font-size="9.1" fill="#2b2b2b">オンリーワン（ドル円）</text></g>
<text x="900.6" y="771.3" font-size="9.30" fill="#111" textLength="32.6" lengthAdjust="spacingAndGlyphs">592,940</text>
<rect x="811.0" y="776.97" width="85.33" height="9.05" fill="#A6A6A6" style="shape-rendering:auto"/>
<g aria-label="３本の矢"><text x="762.05" y="785.89" font-size="9.1" fill="#2b2b2b">３本の矢</text></g>
<text x="902.4" y="784.9" font-size="9.30" fill="#111" textLength="32.6" lengthAdjust="spacingAndGlyphs">605,700</text>
<rect x="811.0" y="790.54" width="87.72" height="9.05" fill="#A6A6A6" style="shape-rendering:auto"/>
<text x="718.0" y="797.0" font-size="9.70" fill="#111" textLength="81.0" lengthAdjust="spacingAndGlyphs">Color Your Life V3</text>
<text x="904.8" y="798.5" font-size="9.30" fill="#111" textLength="32.6" lengthAdjust="spacingAndGlyphs">622,580</text>
<rect x="811.0" y="804.11" width="88.46" height="9.05" fill="#A6A6A6" style="shape-rendering:auto"/>
<g aria-label="１石２鳥（ユーロ円）"><text x="707.45" y="813.03" font-size="9.1" fill="#2b2b2b">１石２鳥（ユーロ円）</text></g>
<text x="905.6" y="812.0" font-size="9.30" fill="#111" textLength="32.6" lengthAdjust="spacingAndGlyphs">627,800</text>
<rect x="811.0" y="817.68" width="98.74" height="9.05" fill="#A6A6A6" style="shape-rendering:auto"/>
<g aria-label="オンリーワン（ユーロドル）"><text x="680.15" y="826.6" font-size="9.1" fill="#2b2b2b">オンリーワン（ユーロドル）</text></g>
<text x="915.9" y="825.6" font-size="9.30" fill="#111" textLength="32.6" lengthAdjust="spacingAndGlyphs">700,380</text>
<rect x="811.0" y="831.25" width="103.82" height="9.05" fill="#A6A6A6" style="shape-rendering:auto"/>
<g aria-label="臥薪嘗胆"><text x="762.05" y="840.17" font-size="9.1" fill="#2b2b2b">臥薪嘗胆</text></g>
<text x="920.9" y="839.2" font-size="9.30" fill="#111" textLength="32.6" lengthAdjust="spacingAndGlyphs">736,170</text>
<rect x="811.0" y="844.82" width="118.61" height="9.05" fill="#A6A6A6" style="shape-rendering:auto"/>
<g aria-label="俺の一目"><text x="762.05" y="853.74" font-size="9.1" fill="#2b2b2b">俺の一目</text></g>
<text x="935.7" y="852.7" font-size="9.30" fill="#111" textLength="32.6" lengthAdjust="spacingAndGlyphs">840,560</text>
<rect x="811.0" y="858.39" width="122.95" height="9.05" fill="#A6A6A6" style="shape-rendering:auto"/>
<g aria-label="一本勝ち（ユーロドル）"><text x="698.35" y="867.31" font-size="9.1" fill="#2b2b2b">一本勝ち（ユーロドル）</text></g>
<text x="940.1" y="866.3" font-size="9.30" fill="#111" textLength="32.6" lengthAdjust="spacingAndGlyphs">871,200</text>
<line x1="810.50" y1="679.20" x2="810.50" y2="870.20" stroke="#868686" stroke-width="1" style="shape-rendering:auto"/>
<line x1="806.00" y1="679.50" x2="810.50" y2="679.50" stroke="#868686" stroke-width="1" style="shape-rendering:auto"/>
<line x1="806.00" y1="693.50" x2="810.50" y2="693.50" stroke="#868686" stroke-width="1" style="shape-rendering:auto"/>
<line x1="806.00" y1="706.50" x2="810.50" y2="706.50" stroke="#868686" stroke-width="1" style="shape-rendering:auto"/>
<line x1="806.00" y1="720.50" x2="810.50" y2="720.50" stroke="#868686" stroke-width="1" style="shape-rendering:auto"/>
<line x1="806.00" y1="733.50" x2="810.50" y2="733.50" stroke="#868686" stroke-width="1" style="shape-rendering:auto"/>
<line x1="806.00" y1="747.50" x2="810.50" y2="747.50" stroke="#868686" stroke-width="1" style="shape-rendering:auto"/>
<line x1="806.00" y1="761.50" x2="810.50" y2="761.50" stroke="#868686" stroke-width="1" style="shape-rendering:auto"/>
<line x1="806.00" y1="774.50" x2="810.50" y2="774.50" stroke="#868686" stroke-width="1" style="shape-rendering:auto"/>
<line x1="806.00" y1="788.50" x2="810.50" y2="788.50" stroke="#868686" stroke-width="1" style="shape-rendering:auto"/>
<line x1="806.00" y1="801.50" x2="810.50" y2="801.50" stroke="#868686" stroke-width="1" style="shape-rendering:auto"/>
<line x1="806.00" y1="815.50" x2="810.50" y2="815.50" stroke="#868686" stroke-width="1" style="shape-rendering:auto"/>
<line x1="806.00" y1="828.50" x2="810.50" y2="828.50" stroke="#868686" stroke-width="1" style="shape-rendering:auto"/>
<line x1="806.00" y1="842.50" x2="810.50" y2="842.50" stroke="#868686" stroke-width="1" style="shape-rendering:auto"/>
<line x1="806.00" y1="856.50" x2="810.50" y2="856.50" stroke="#868686" stroke-width="1" style="shape-rendering:auto"/>
<line x1="806.00" y1="869.50" x2="810.50" y2="869.50" stroke="#868686" stroke-width="1" style="shape-rendering:auto"/>
<line x1="806.00" y1="869.70" x2="952.50" y2="869.70" stroke="#868686" stroke-width="1" style="shape-rendering:auto"/>
<line x1="810.50" y1="869.70" x2="810.50" y2="873.70" stroke="#868686" stroke-width="1" style="shape-rendering:auto"/>
<text x="805.7" y="887.1" font-size="9.70" fill="#111">0</text>
<line x1="867.50" y1="869.70" x2="867.50" y2="873.70" stroke="#868686" stroke-width="1" style="shape-rendering:auto"/>
<text x="846.5" y="887.1" font-size="9.70" fill="#111" textLength="37.4" lengthAdjust="spacingAndGlyphs">400,000</text>
<line x1="923.50" y1="869.70" x2="923.50" y2="873.70" stroke="#868686" stroke-width="1" style="shape-rendering:auto"/>
<text x="903.2" y="887.1" font-size="9.70" fill="#111" textLength="37.4" lengthAdjust="spacingAndGlyphs">800,000</text>
</g>
</svg>
</body>
</html>
